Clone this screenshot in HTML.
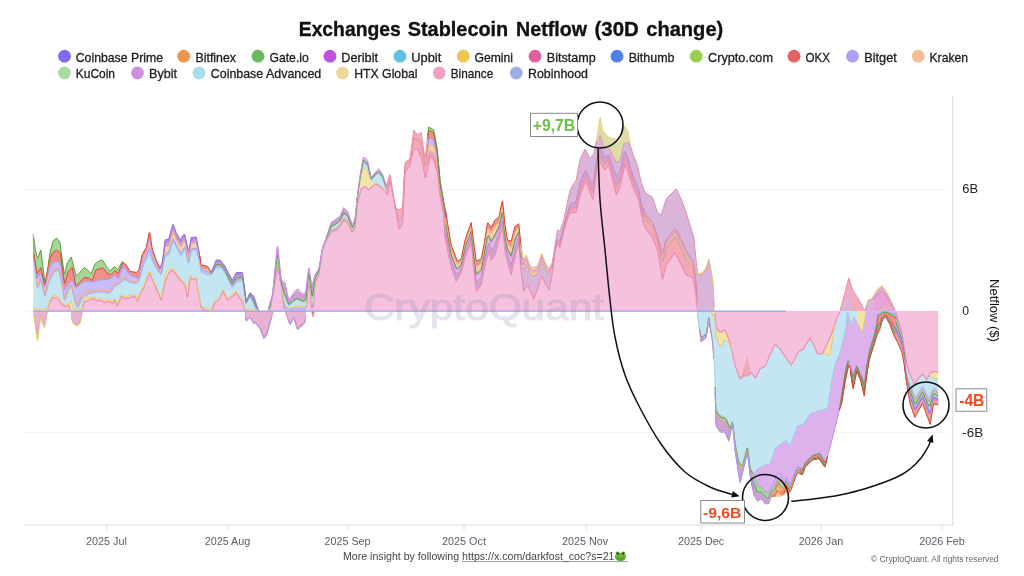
<!DOCTYPE html><html><head><meta charset="utf-8"><title>Exchanges Stablecoin Netflow (30D change)</title>
<style>html,body{margin:0;padding:0;background:#fff}body{width:1024px;height:576px;overflow:hidden}svg{display:block}text{font-family:"Liberation Sans", sans-serif}</style></head><body>
<svg width="1024" height="576" viewBox="0 0 1024 576">
<rect width="1024" height="576" fill="#fff"/>
<text y="36.0" font-size="20.2" fill="#111" font-weight="bold" stroke="#111" stroke-width="0.35"><tspan x="298.75" textLength="102" lengthAdjust="spacingAndGlyphs">Exchanges</tspan> <tspan x="407.75" textLength="100.5" lengthAdjust="spacingAndGlyphs">Stablecoin</tspan> <tspan x="516" textLength="71" lengthAdjust="spacingAndGlyphs">Netflow</tspan> <tspan x="594.5" textLength="44.25" lengthAdjust="spacingAndGlyphs">(30D</tspan> <tspan x="646.25" textLength="77" lengthAdjust="spacingAndGlyphs">change)</tspan></text>
<circle cx="64.50" cy="56.20" r="6.4" fill="#7b6cf0"/>
<text x="75.75" y="61.50" font-size="12.6" fill="#1c1c1c" font-weight="normal" text-anchor="start" textLength="87.25" lengthAdjust="spacingAndGlyphs" stroke="#1c1c1c" stroke-width="0.3">Coinbase Prime</text>
<circle cx="183.75" cy="56.20" r="6.4" fill="#f0954f"/>
<text x="195.50" y="61.50" font-size="12.6" fill="#1c1c1c" font-weight="normal" text-anchor="start" textLength="40.50" lengthAdjust="spacingAndGlyphs" stroke="#1c1c1c" stroke-width="0.3">Bitfinex</text>
<circle cx="258.00" cy="56.20" r="6.4" fill="#68bb5c"/>
<text x="269.50" y="61.50" font-size="12.6" fill="#1c1c1c" font-weight="normal" text-anchor="start" textLength="39.25" lengthAdjust="spacingAndGlyphs" stroke="#1c1c1c" stroke-width="0.3">Gate.io</text>
<circle cx="330.00" cy="56.20" r="6.4" fill="#c050e0"/>
<text x="341.25" y="61.50" font-size="12.6" fill="#1c1c1c" font-weight="normal" text-anchor="start" textLength="36.75" lengthAdjust="spacingAndGlyphs" stroke="#1c1c1c" stroke-width="0.3">Deribit</text>
<circle cx="400.00" cy="56.20" r="6.4" fill="#62c0e4"/>
<text x="411.25" y="61.50" font-size="12.6" fill="#1c1c1c" font-weight="normal" text-anchor="start" textLength="30.00" lengthAdjust="spacingAndGlyphs" stroke="#1c1c1c" stroke-width="0.3">Upbit</text>
<circle cx="463.25" cy="56.20" r="6.4" fill="#f0c550"/>
<text x="474.50" y="61.50" font-size="12.6" fill="#1c1c1c" font-weight="normal" text-anchor="start" textLength="38.50" lengthAdjust="spacingAndGlyphs" stroke="#1c1c1c" stroke-width="0.3">Gemini</text>
<circle cx="535.00" cy="56.20" r="6.4" fill="#e0609a"/>
<text x="546.75" y="61.50" font-size="12.6" fill="#1c1c1c" font-weight="normal" text-anchor="start" textLength="49.00" lengthAdjust="spacingAndGlyphs" stroke="#1c1c1c" stroke-width="0.3">Bitstamp</text>
<circle cx="617.00" cy="56.20" r="6.4" fill="#4f7fe8"/>
<text x="628.75" y="61.50" font-size="12.6" fill="#1c1c1c" font-weight="normal" text-anchor="start" textLength="45.75" lengthAdjust="spacingAndGlyphs" stroke="#1c1c1c" stroke-width="0.3">Bithumb</text>
<circle cx="696.25" cy="56.20" r="6.4" fill="#9ad050"/>
<text x="708.00" y="61.50" font-size="12.6" fill="#1c1c1c" font-weight="normal" text-anchor="start" textLength="65.00" lengthAdjust="spacingAndGlyphs" stroke="#1c1c1c" stroke-width="0.3">Crypto.com</text>
<circle cx="794.00" cy="56.20" r="6.4" fill="#e56060"/>
<text x="805.50" y="61.50" font-size="12.6" fill="#1c1c1c" font-weight="normal" text-anchor="start" textLength="24.50" lengthAdjust="spacingAndGlyphs" stroke="#1c1c1c" stroke-width="0.3">OKX</text>
<circle cx="852.50" cy="56.20" r="6.4" fill="#ada0f5"/>
<text x="864.25" y="61.50" font-size="12.6" fill="#1c1c1c" font-weight="normal" text-anchor="start" textLength="32.50" lengthAdjust="spacingAndGlyphs" stroke="#1c1c1c" stroke-width="0.3">Bitget</text>
<circle cx="918.25" cy="56.20" r="6.4" fill="#f5bd95"/>
<text x="929.50" y="61.50" font-size="12.6" fill="#1c1c1c" font-weight="normal" text-anchor="start" textLength="38.50" lengthAdjust="spacingAndGlyphs" stroke="#1c1c1c" stroke-width="0.3">Kraken</text>
<circle cx="64.50" cy="73.00" r="6.4" fill="#a8dca0"/>
<text x="75.75" y="78.40" font-size="12.6" fill="#1c1c1c" font-weight="normal" text-anchor="start" textLength="39.25" lengthAdjust="spacingAndGlyphs" stroke="#1c1c1c" stroke-width="0.3">KuCoin</text>
<circle cx="137.50" cy="73.00" r="6.4" fill="#cc90e0"/>
<text x="149.00" y="78.40" font-size="12.6" fill="#1c1c1c" font-weight="normal" text-anchor="start" textLength="28.00" lengthAdjust="spacingAndGlyphs" stroke="#1c1c1c" stroke-width="0.3">Bybit</text>
<circle cx="199.00" cy="73.00" r="6.4" fill="#a8dcee"/>
<text x="210.75" y="78.40" font-size="12.6" fill="#1c1c1c" font-weight="normal" text-anchor="start" textLength="110.50" lengthAdjust="spacingAndGlyphs" stroke="#1c1c1c" stroke-width="0.3">Coinbase Advanced</text>
<circle cx="342.50" cy="73.00" r="6.4" fill="#ecd898"/>
<text x="354.25" y="78.40" font-size="12.6" fill="#1c1c1c" font-weight="normal" text-anchor="start" textLength="63.25" lengthAdjust="spacingAndGlyphs" stroke="#1c1c1c" stroke-width="0.3">HTX Global</text>
<circle cx="439.25" cy="73.00" r="6.4" fill="#f0a0c4"/>
<text x="450.75" y="78.40" font-size="12.6" fill="#1c1c1c" font-weight="normal" text-anchor="start" textLength="42.50" lengthAdjust="spacingAndGlyphs" stroke="#1c1c1c" stroke-width="0.3">Binance</text>
<circle cx="516.25" cy="73.00" r="6.4" fill="#9cb0e8"/>
<text x="528.00" y="78.40" font-size="12.6" fill="#1c1c1c" font-weight="normal" text-anchor="start" textLength="60.00" lengthAdjust="spacingAndGlyphs" stroke="#1c1c1c" stroke-width="0.3">Robinhood</text>
<line x1="24" x2="947" y1="190.0" y2="190.0" stroke="#f4f4f4" stroke-width="1"/>
<line x1="24" x2="947" y1="432.5" y2="432.5" stroke="#f4f4f4" stroke-width="1"/>
<line x1="24" x2="947" y1="311" y2="311" stroke="#f4f4f4" stroke-width="1"/>
<g id="chart">
<path d="M33.2 311L47.2 311L47.8 309.8L48.8 305L52.2 298L52.8 297.5L57.2 298L57.8 298.4L61.2 303.8L65.2 306.8L65.8 306.8L68.8 305L70.8 311L81.8 311L82.2 309.8L83.8 302.5L88.8 300L93.8 298.8L97.2 301.1L97.8 301.1L99.8 300.1L100.2 300.1L104.8 302.4L105.2 302.4L108.8 301.2L112.2 303.6L112.8 303.4L114.8 300.4L115.2 300.6L117.2 305.6L117.8 305.6L121.2 296.2L124.8 298.6L125.2 298.7L134.8 296.3L135.2 296.8L137.2 300.8L137.8 300.6L140.2 294.5L143.8 287.5L149.2 273.6L149.8 273.6L161.2 300L165.2 281.8L168.8 272.5L172.2 270.2L172.8 270.3L179.8 279.7L184.8 284.8L185.2 286.4L187.2 297.4L187.8 296.6L189.8 279.6L190.2 277.7L193.8 280L196.2 278.8L198.8 295L201.2 307.5L204.8 309.8L211.2 311L214.8 303.1L215.2 302.3L218.8 300L223.2 291.2L227.2 299.5L227.8 299.8L231.2 297.5L236.2 292.5L239.8 298.3L242.8 302.2L243.2 303.6L244.8 309.9L245.2 311L269.8 311L270.2 309.6L277.2 268.9L277.8 268.7L281.2 285L284.2 309L284.8 311L306.2 311L308.8 277.5L311.8 308.4L312.2 311L312.8 311L313.2 307.4L314.8 286.1L315.2 282L318.8 275L322.2 251.7L322.8 249.4L326.2 241.2L331.2 232L336.2 230.5L339.8 226.5L343.8 220.2L347.2 222.1L347.8 222.8L351.8 231.7L352.2 231.9L354.8 228.4L355.2 225.4L357.2 205.1L357.8 201.6L361.2 188.8L364.8 186.4L365.2 186.5L368.8 190L373.8 185L377.2 184.5L377.8 184.7L383.8 190L387.2 194.7L387.8 193.5L389.8 181.5L390.2 181.2L396.2 212.5L398.8 228.8L402.2 225.2L402.8 219.8L404.8 177.8L405.2 172.1L409.8 165.4L410.2 164L413.8 150L417.2 148.8L417.8 149.3L421.2 157.5L425.2 177.5L425.8 177.5L429.8 157.5L430.2 156.5L433.8 160L437.2 171.7L437.8 174.8L440.2 196.3L443.8 215L444.8 233L445.2 238.7L451.2 267.5L456.2 281.2L461.2 272.5L465.2 256.9L471.2 242.5L473.8 270L476.2 291.2L481.2 285L484.8 266.3L488.8 251.2L491.2 260L494.8 255.3L495.2 254L498.8 240L502.2 228.3L502.8 229.8L505.2 252.7L505.8 255.9L511.2 275L515.2 256.5L518.8 242.5L521.2 272.5L523.8 291.2L527.2 285.4L527.8 285.6L533.8 298.8L537.8 288L541.8 276.2L545.2 282.9L549.2 290L551.8 276.4L554.8 252.1L555.2 249.4L557.2 244.4L557.8 244.1L559.8 247.1L560.2 246.3L563.8 230L566.2 222.5L569.8 213.2L570.2 212.5L576.2 212.5L580.2 194.4L585.8 181.2L592.8 199.4L593.2 198.1L597.2 166.9L597.8 164.7L599.8 162.3L600.2 162.4L604.8 169.6L605.2 169.7L608.8 165L616.2 195L619.8 188L620.2 186.3L624.8 164.9L625.2 164.5L633.8 190L638.8 200L642.2 218.7L642.8 220.8L644.8 226.8L645.2 227.8L652.2 237.2L657.2 249.4L657.8 251.5L662.2 278.5L662.8 279L666.2 265L670.2 259.6L674.8 252.9L675.2 253L686.2 275L692.2 277.4L692.8 278.5L695.2 289L695.8 293.5L696.8 307.5L697.2 311L938.2 311L938.2 311L33.2 311Z" fill="#f6c1dd"/>
<path d="M33.2 309L47.2 309L47.8 307.8L48.8 303L52.2 296L52.8 295.5L57.2 296L57.8 296.4L61.2 301.8L65.2 304.8L65.8 304.8L68.8 302.8L70.8 302.4L71.2 301.2L73.8 309L81.8 309L82.2 307.8L83.8 299.8L85.8 296.8L86.2 296.5L89.2 297.9L93.8 296.8L97.2 299.1L97.8 299.1L99.8 298.1L100.2 298.1L104.8 300.4L105.2 300.4L108.8 299.2L112.2 301.6L112.8 301.4L114.8 298.4L115.2 298.6L117.2 303.6L117.8 303.6L121.2 294.2L124.8 296.6L125.2 296.7L134.8 294.3L135.2 294.8L137.2 298.8L137.8 298.6L140.2 292.5L143.8 285.5L149.2 271.6L149.8 271.6L161.2 298L162.8 290.5L164.8 277.2L165.8 272L166.2 270.7L168.8 269L169.2 269.7L169.8 269.8L172.2 268.2L172.8 268.3L179.8 277.7L184.8 282.8L187.2 287.3L187.8 286.5L189.8 276.7L190.2 275.7L193.8 278L196.2 276.8L198.8 293L201.2 305.5L204.8 307.8L211.2 309L214.8 301.1L215.2 300.3L218.8 298L223.2 289.2L227.2 297.5L227.8 297.8L231.2 295.5L236.2 290.5L239.8 296.3L242.8 300.2L243.2 301.6L244.8 307.9L245.2 309L246.2 309.8L249.2 309L251.8 309L253.8 309.2L258.2 310.8L258.2 311L245.2 311L244.8 309.9L243.2 303.6L242.8 302.2L239.8 298.3L236.2 292.5L231.2 297.5L227.8 299.8L227.2 299.5L223.2 291.2L218.8 300L215.2 302.3L214.8 303.1L211.2 311L204.8 309.8L201.2 307.5L198.8 295L196.2 278.8L193.8 280L190.2 277.7L189.8 279.6L187.8 296.6L187.2 297.4L185.2 286.4L184.8 284.8L179.8 279.7L172.8 270.3L172.2 270.2L168.8 272.5L165.2 281.8L161.2 300L149.8 273.6L149.2 273.6L143.8 287.5L140.2 294.5L137.8 300.6L137.2 300.8L135.2 296.8L134.8 296.3L125.2 298.7L124.8 298.6L121.2 296.2L117.8 305.6L117.2 305.6L115.2 300.6L114.8 300.4L112.8 303.4L112.2 303.6L108.8 301.2L105.2 302.4L104.8 302.4L100.2 300.1L99.8 300.1L97.8 301.1L97.2 301.1L93.8 298.8L88.8 300L83.8 302.5L82.2 309.8L81.8 311L70.8 311L68.8 305L65.8 306.8L65.2 306.8L61.2 303.8L57.8 298.4L57.2 298L52.8 297.5L52.2 298L48.8 305L47.8 309.8L47.2 311L33.2 311Z" fill="#f3e4a6"/>
<path d="M33.2 256.2L37.2 286.8L37.8 288.1L40.8 280L44.8 296.5L45.2 296.5L48.8 282.5L53.8 272.5L58.8 270L62.2 286.3L64.2 299.5L64.8 300.5L67.8 292L71.2 285L75.2 303.2L77.2 308.8L77.8 308.9L81.2 300L85.2 296.1L89.8 293.9L99.8 292.5L109.8 293.7L110.2 293.4L114.8 286.6L115.2 286.1L119.8 283.9L124.8 280.2L125.2 280.1L130.2 282.6L136.2 283.8L138.8 281.2L143.8 265L149.2 254.2L149.8 254.4L153.8 265L158.8 272.5L161.2 275L164.8 257.5L165.2 256.2L168.8 255L172.8 242.1L173.2 241.7L177.2 249.5L181.2 256.2L184.8 249.2L185.2 249.9L188.2 263.4L188.8 263.3L191.2 251.2L196.2 250L199.2 260L201.2 272.5L207.2 274.9L211.2 275L216.2 268L221.2 268L225.2 273.6L228.8 281.2L232.2 287.6L232.8 287.6L236.2 282.5L242.2 280.6L242.8 282.1L246.2 303.8L249.8 296.8L250.2 296.8L255.8 309.4L256.2 310.1L258.2 310.8L258.2 310.8L253.8 309.2L251.8 309L249.2 309L246.2 309.8L245.2 309L244.8 307.9L243.2 301.6L242.8 300.2L239.8 296.3L236.2 290.5L231.2 295.5L227.8 297.8L227.2 297.5L223.2 289.2L218.8 298L215.2 300.3L214.8 301.1L211.2 309L204.8 307.8L201.2 305.5L198.8 293L196.2 276.8L193.8 278L190.2 275.7L189.8 276.7L187.8 286.5L187.2 287.3L184.8 282.8L179.8 277.7L172.8 268.3L172.2 268.2L169.8 269.8L169.2 269.7L168.8 269L166.2 270.7L165.8 272L164.8 277.2L162.8 290.5L161.2 298L149.8 271.6L149.2 271.6L143.8 285.5L140.2 292.5L137.8 298.6L137.2 298.8L135.2 294.8L134.8 294.3L125.2 296.7L124.8 296.6L121.2 294.2L117.8 303.6L117.2 303.6L115.2 298.6L114.8 298.4L112.8 301.4L112.2 301.6L108.8 299.2L105.2 300.4L104.8 300.4L100.2 298.1L99.8 298.1L97.8 299.1L97.2 299.1L93.8 296.8L89.2 297.9L86.2 296.5L85.8 296.8L83.8 299.8L82.2 307.8L81.8 309L73.8 309L71.2 301.2L70.8 302.4L68.8 302.8L65.8 304.8L65.2 304.8L61.2 301.8L57.8 296.4L57.2 296L52.8 295.5L52.2 296L48.8 303L47.8 307.8L47.2 309L33.2 309Z" fill="#c4e6f2"/>
<path d="M33.2 253.6L33.8 259.9L37.2 285.8L37.8 286.8L40.8 279.1L44.8 295.3L45.2 295.1L48.8 281.1L52.8 273.1L53.8 271.3L56.8 269.8L58.8 269.1L62.2 285L64.2 298.1L64.8 299.2L67.8 291.2L71.2 284.5L74.8 299.5L75.8 302.6L77.2 306.2L77.8 306.2L81.2 298L85.2 294.4L90.2 292.3L99.8 291L109.8 291.9L110.2 291.6L114.8 285.2L115.2 284.9L118.2 283.9L120.2 282.3L122.8 279.8L124.8 278.8L125.2 278.8L130.2 281.6L136.2 283L137.8 281.8L138.8 280.7L139.8 277.6L140.2 274.8L140.2 276.4L138.8 281.2L136.2 283.8L130.2 282.6L125.2 280.1L124.8 280.2L120.2 283.6L115.2 286.1L114.8 286.6L110.2 293.4L109.8 293.7L99.8 292.5L90.2 293.7L85.2 296.1L81.2 300L77.8 308.9L77.2 308.8L74.8 301.3L71.2 285L67.8 292L64.8 300.5L64.2 299.5L62.2 286.3L58.8 270L53.8 272.5L48.8 282.5L45.2 296.5L44.8 296.5L40.8 280L37.8 288.1L37.2 286.8L33.2 256.2Z" fill="#e2b8ea"/>
<path d="M33.2 250.8L33.8 259.7L37.2 284.8L37.8 285.6L40.8 278.2L44.8 294.2L45.2 293.7L48.8 279.7L52.8 271.6L53.8 270L56.8 268.7L58.8 268.2L60.8 276L62.2 283.7L64.2 296.7L64.8 297.9L67.8 290.3L71.2 284L75.2 299.3L77.2 303.6L77.8 303.5L81.2 296.1L83.8 293.7L85.2 292.6L90.2 290.8L99.8 289.5L106.2 290L109.8 290.1L110.2 289.8L111.2 288.6L114.8 283.9L115.2 283.6L118.2 283.2L119.8 281.7L122.8 278L124.8 277.3L125.2 277.4L126.2 278L130.2 280.7L136.2 282.3L137.8 281.4L138.8 280.1L139.8 277.1L140.2 273.3L140.2 274.8L139.8 277.6L138.8 280.7L137.8 281.8L136.2 283L130.2 281.6L125.2 278.8L124.8 278.8L122.8 279.8L120.2 282.3L118.2 283.9L115.2 284.9L114.8 285.2L110.2 291.6L109.8 291.9L99.8 291L90.2 292.3L85.2 294.4L81.2 298L77.8 306.2L77.2 306.2L75.8 302.6L74.8 299.5L71.2 284.5L67.8 291.2L64.8 299.2L64.2 298.1L62.2 285L58.8 269.1L56.8 269.8L53.8 271.3L52.8 273.1L48.8 281.1L45.2 295.1L44.8 295.3L40.8 279.1L37.8 286.8L37.2 285.8L33.8 259.9L33.2 253.6Z" fill="#f7cfae"/>
<path d="M33.2 233.8L33.8 258.5L36.8 276.5L37.2 278.5L40.8 272.7L41.2 274L44.2 286L44.8 287L49.2 269.5L52.8 262.5L56.8 261.2L60.2 263.6L60.8 265.4L62.8 278.8L64.2 287.8L64.8 289.8L67.8 285L71.8 280.4L72.2 280.3L75.8 287.9L76.2 287.8L83.8 281.5L84.2 281.3L92.2 281.8L99.2 280L106.8 279.7L111.2 278.2L114.2 275.4L114.8 275.1L118.2 278.6L118.8 277.7L122.8 266.2L126.8 270.3L130.2 275L133.8 276.2L137.8 278.8L139.8 274.3L140.2 263.5L140.2 273.3L139.8 277.1L138.8 280.1L137.8 281.4L136.2 282.3L130.2 280.7L126.2 278L125.2 277.4L124.8 277.3L122.8 278L119.8 281.7L118.2 283.2L115.2 283.6L114.8 283.9L111.2 288.6L110.2 289.8L109.8 290.1L106.2 290L99.8 289.5L90.2 290.8L85.2 292.6L83.8 293.7L81.2 296.1L77.8 303.5L77.2 303.6L75.2 299.3L71.2 284L67.8 290.3L64.8 297.9L64.2 296.7L62.2 283.7L60.8 276L58.8 268.2L56.8 268.7L53.8 270L52.8 271.6L48.8 279.7L45.2 293.7L44.8 294.2L40.8 278.2L37.8 285.6L37.2 284.8L33.8 259.7L33.2 250.8Z" fill="#c9bdf7"/>
<path d="M33.2 233.8L33.8 253.5L36.8 271.5L37.2 273.5L40.8 267.7L41.2 269.2L44.2 283.2L44.8 284.3L45.2 282.4L48.8 262.6L49.2 260.7L52.8 252.5L56.8 250L60.2 253.5L60.8 255.6L64.2 281L64.8 283.3L67.8 272.5L71.8 267.4L72.2 267.5L75.8 285.6L76.2 285.9L79.8 282.4L83.8 277.8L84.2 277.5L88.8 278.1L91.8 280.3L92.2 280.3L95.8 270.4L96.2 269.9L102.8 267.8L103.2 268.1L106.8 272.6L110.8 274.9L114.8 270.7L118.2 273L118.8 272.2L122.8 262.5L123.2 262L126.2 265L129.8 270.8L130.2 271.3L136.2 272.5L138.8 270L140.2 263.5L140.2 263.5L139.8 274.3L137.8 278.8L134.2 276.4L130.2 275L126.8 270.3L122.8 266.2L118.8 277.7L118.2 278.6L114.8 275.1L114.2 275.4L111.2 278.2L106.8 279.7L99.2 280L92.2 281.8L84.2 281.3L83.8 281.5L76.2 287.8L75.8 287.9L72.2 280.3L71.8 280.4L67.8 285L64.8 289.8L64.2 287.8L62.8 278.8L60.8 265.4L60.2 263.6L56.8 261.2L52.8 262.5L49.2 269.5L44.8 287L44.2 286L41.2 274L40.8 272.7L37.2 278.5L36.8 276.5L33.8 258.5L33.2 233.8Z" fill="#f0908c"/>
<path d="M33.2 233.8L35.2 248.6L37.2 257.6L37.8 258.1L40.8 250L44.8 281.7L45.2 282.4L47.2 271.4L50.2 251.6L52.8 242.2L53.2 241L56.8 238L59.8 242.2L60.2 244.5L62.8 264.1L64.2 273.4L64.8 274L67.2 263.5L67.8 262.1L71.2 257L76.2 276.2L80.2 272.2L84.2 267.5L87.8 270.2L91.2 273.8L94.8 264.4L95.2 263.6L98.8 261.2L102.2 260.1L102.8 260.4L106.2 266.2L109.8 270.9L110.2 271L114.2 266.5L114.8 266.6L117.2 269.7L117.8 269.6L122.2 261.7L122.8 261.5L126.2 265L129.8 270.8L130.2 271.3L136.2 272.5L138.8 270L140.2 263.5L140.2 263.5L138.8 270L136.2 272.5L130.2 271.3L129.8 270.8L126.2 265L123.2 262L122.8 262.5L118.8 272.2L118.2 273L114.8 270.7L110.8 274.9L106.8 272.6L103.2 268.1L102.8 267.8L96.2 269.9L95.8 270.4L92.2 280.3L91.8 280.3L88.8 278.1L84.2 277.5L83.8 277.8L79.8 282.4L76.2 285.9L75.8 285.6L72.2 267.5L71.8 267.4L67.8 272.5L64.8 283.3L64.2 281L60.8 255.6L60.2 253.5L56.8 250L52.8 252.5L49.2 260.7L48.8 262.6L45.2 282.4L44.8 284.3L44.2 283.2L41.2 269.2L40.8 267.7L37.2 273.5L36.8 271.5L33.8 253.5L33.2 233.8Z" fill="#a8d699"/>
<path d="M139.8 274.3L142.8 263.8L143.8 261L146.2 256.3L149.2 247.7L149.8 247.9L152.2 257.3L153.8 261.5L158.8 270.5L159.8 271.9L160.2 272.2L160.2 274L158.8 272.5L153.8 265L149.8 254.4L149.2 254.2L143.8 265L139.8 278Z" fill="#c9bdf7"/>
<path d="M139.8 271.8L142.8 260.8L143.8 258.3L146.2 253.8L149.2 243.4L149.8 243.6L152.2 254.7L153.8 259.2L158.8 269.2L159.8 270.8L160.2 271L160.2 272.2L159.8 271.9L158.8 270.5L153.8 261.5L152.2 257.3L149.8 247.9L149.2 247.7L146.2 256.3L143.8 261L142.8 263.8L139.8 274.3Z" fill="#f7cfae"/>
<path d="M139.8 269.4L142.8 257.8L143.8 255.7L146.2 251.3L149.2 239L149.8 239.3L152.8 254.2L156.2 262.6L159.8 269.8L160.2 269.8L160.2 271L159.8 270.8L158.8 269.2L153.8 259.2L152.2 254.7L149.8 243.6L149.2 243.4L146.2 253.8L143.8 258.3L142.8 260.8L139.8 271.8Z" fill="#e2b8ea"/>
<path d="M139.8 265.7L142.2 254.8L142.8 253.3L146.2 247.5L149.2 232.5L149.8 232.8L152.2 248.4L152.8 250.7L156.2 260L159.8 268.2L160.2 268L160.2 269.8L159.8 269.8L156.2 262.6L152.8 254.2L149.8 239.3L149.2 239L146.2 251.3L143.8 255.7L142.8 257.8L139.8 269.4Z" fill="#f0908c"/>
<path d="M159.8 272.7L161.2 273.5L164.8 255.2L165.2 253.7L168.8 252.6L172.8 239.4L173.2 239.1L177.8 248.2L179.8 251.6L181.2 253.6L184.8 247.1L185.2 247.9L188.2 261.4L188.8 261.3L191.2 249.2L196.2 248.1L199.2 258.9L200.2 265.2L200.2 266.2L199.2 260L196.2 250L191.2 251.2L188.8 263.3L188.2 263.4L185.2 249.9L184.8 249.2L181.2 256.2L177.2 249.5L173.2 241.7L172.8 242.1L168.8 255L165.2 256.2L164.8 257.5L161.2 275L159.8 273.5Z" fill="#c9bdf7"/>
<path d="M159.8 270.6L160.2 270.7L161.2 269.5L162.2 265.6L164.8 249L165.2 247.2L168.8 246.1L172.8 232.5L173.2 232.2L176.2 239.3L179.8 245.9L180.2 246.4L181.2 246.4L184.2 241.4L184.8 241.3L185.2 242.8L188.2 256.1L188.8 256L191.2 243.7L196.2 242.8L199.2 256.1L200.2 262.3L200.2 265.2L199.2 258.9L196.2 248.1L191.2 249.2L188.8 261.3L188.2 261.4L185.2 247.9L184.8 247.1L181.2 253.6L179.8 251.6L177.8 248.2L173.2 239.1L172.8 239.4L168.8 252.6L165.2 253.7L164.8 255.2L161.2 273.5L159.8 272.7Z" fill="#f7cfae"/>
<path d="M159.8 269.2L160.2 269.2L161.2 267L162.2 263.6L164.8 245.2L165.2 243.2L168.8 242L172.8 228.1L173.2 227.9L176.2 235.5L179.8 242.3L180.2 242.6L181.2 241.9L184.2 237.3L184.8 237.7L188.2 252.8L188.8 252.7L191.2 240.2L196.2 239.6L198.8 251.7L200.2 260.4L200.2 262.3L199.2 256.1L196.2 242.8L191.2 243.7L188.8 256L188.2 256.1L185.2 242.8L184.8 241.3L184.2 241.4L181.2 246.4L180.2 246.4L179.8 245.9L176.2 239.3L173.2 232.2L172.8 232.5L168.8 246.1L165.2 247.2L164.8 249L162.2 265.6L161.2 269.5L160.2 270.7L159.8 270.6Z" fill="#cfa2d2"/>
<path d="M159.8 268.2L160.2 268L162.2 262L162.8 259.1L164.8 242.1L165.2 239.9L168.8 238.8L172.8 224.6L173.2 224.4L176.2 232.5L179.8 239.5L180.2 239.7L184.2 234.1L184.8 234.8L188.2 250.2L188.8 250L191.2 237.5L196.2 237L198.8 250L200.2 259L200.2 260.4L198.8 251.7L196.2 239.6L191.2 240.2L188.8 252.7L188.2 252.8L184.8 237.7L184.2 237.3L181.2 241.9L180.2 242.6L179.8 242.3L176.2 235.5L173.2 227.9L172.8 228.1L168.8 242L165.2 243.2L164.8 245.2L162.2 263.6L161.2 267L160.2 269.2L159.8 269.2Z" fill="#a88ce2"/>
<path d="M199.8 260.3L201.2 269.5L207.2 271.4L211.2 274L212.2 272.2L212.2 273.6L211.2 275L207.8 275L201.2 272.5L199.8 263.1Z" fill="#c9bdf7"/>
<path d="M199.8 258.9L201.2 268L207.2 269.7L211.2 273.5L212.2 271.4L212.2 272.2L211.2 274L207.2 271.4L201.2 269.5L199.8 260.3Z" fill="#f7cfae"/>
<path d="M199.8 256L201.2 265L207.2 266.2L207.8 266.7L211.2 272.5L212.2 270L212.2 271.4L211.2 273.5L207.2 269.7L201.2 268L199.8 258.9Z" fill="#f0908c"/>
<path d="M211.8 273.5L216.2 266L220.2 266.1L221.2 266.4L224.8 271L228.8 279.4L232.2 285.6L232.8 285.6L236.2 280L242.2 278.6L242.8 280.1L246.2 303.1L249.8 295.8L250.2 295.8L253.8 302.7L255.8 307.6L256.2 308.5L258.2 310.5L258.2 310.8L256.2 310.1L255.8 309.4L250.2 296.8L249.8 296.8L246.2 303.8L242.8 282.1L242.2 280.6L236.2 282.5L232.8 287.6L232.2 287.6L228.8 281.2L225.2 273.6L221.2 268L216.2 268L211.8 274.3Z" fill="#c9bdf7"/>
<path d="M211.8 272.9L216.2 264.4L219.8 264.4L221.2 265.1L224.8 269.6L228.8 277.9L232.2 284L232.8 284L236.2 278L242.2 276.9L242.8 278.6L246.2 302.6L249.8 295.1L250.2 295L253.8 301L256.2 307.2L258.2 310.2L258.2 310.5L256.2 308.5L255.8 307.6L253.8 302.7L250.2 295.8L249.8 295.8L246.2 303.1L242.8 280.1L242.2 278.6L236.2 280L232.8 285.6L232.2 285.6L228.8 279.4L224.8 271L221.2 266.4L220.2 266.1L216.2 266L211.8 273.5Z" fill="#a8d699"/>
<path d="M211.8 272.2L216.2 262.4L219.8 262.4L221.2 263.5L224.8 268L228.8 276L232.2 282L232.8 281.9L236.2 275.5L242.2 274.9L242.8 276.7L246.2 302L249.8 294.2L250.2 294L253.8 298.8L256.2 305.6L258.2 309.9L258.2 310.2L256.2 307.2L253.8 301L250.2 295L249.8 295.1L246.2 302.6L242.8 278.6L242.2 276.9L236.2 278L232.8 284L232.2 284L228.8 277.9L224.8 269.6L221.2 265.1L219.8 264.4L216.2 264.4L211.8 272.9Z" fill="#cfa2d2"/>
<path d="M211.8 271.2L216.2 260L219.8 260L220.2 260.3L224.8 265.9L228.8 273.8L232.2 279.6L232.8 279.5L236.2 272.5L242.2 272.5L242.8 274.4L246.2 301.2L249.8 293.1L250.2 292.8L253.8 296.2L258.2 309.5L258.2 309.9L256.2 305.6L253.8 298.8L250.2 294L249.8 294.2L246.2 302L242.8 276.7L242.2 274.9L236.2 275.5L232.8 281.9L232.2 282L228.8 276L224.8 268L221.2 263.5L219.8 262.4L216.2 262.4L211.8 272.2Z" fill="#a88ce2"/>
<path d="M257.8 310.6L258.8 311L267.2 311L269.8 309.9L270.2 308.4L272.2 297.6L277.2 265.6L277.8 265.3L281.2 284.2L284.2 304.9L284.8 306.7L288.8 309.4L293.8 308.2L297.2 307.7L302.2 308.4L305.2 308.2L306.2 307.4L308.8 276L311.8 304.9L312.2 307.1L312.8 306.9L313.2 303.6L314.8 284.5L315.2 280.9L318.8 274.1L322.2 251.3L322.8 249L326.2 240.7L331.2 230.6L336.2 228.7L340.2 224.3L343.8 218.3L347.2 220.4L347.8 221.2L351.8 230.4L352.2 230.8L352.8 230.2L354.8 227L355.2 224.1L357.2 203.9L357.2 205.1L355.2 225.4L354.8 228.4L352.2 231.9L351.8 231.7L347.8 222.8L347.2 222.1L343.8 220.2L339.8 226.5L336.2 230.5L331.2 232L326.2 241.2L322.8 249.4L322.2 251.7L318.8 275L315.2 282L314.8 286.1L313.2 307.4L312.8 311L312.2 311L311.8 308.4L308.8 277.5L306.2 311L284.8 311L284.2 309L281.2 285L277.8 268.7L277.2 268.9L270.2 309.6L269.8 311L257.8 311Z" fill="#c9bdf7"/>
<path d="M257.8 310.3L258.8 311L267.2 311L267.8 310.8L269.8 309.2L270.2 307.7L272.2 297.4L277.2 263.3L277.8 263L284.2 302.2L284.8 303.8L285.2 304.2L288.8 308.2L293.8 306.4L297.2 305.5L302.8 306.7L305.2 306.4L305.8 305.9L306.2 304.9L308.8 275L311.8 302.5L312.2 304.6L312.8 304.1L313.2 301L314.8 283.5L315.2 280.1L318.8 273.4L322.2 251L322.8 248.8L326.2 240.3L331.2 229.6L336.2 227.6L340.2 223.3L343.8 217.1L347.2 219.3L347.8 220.1L351.8 229.5L352.2 230L352.8 229.5L354.8 226.1L355.2 223.2L357.2 203.1L357.2 203.9L355.2 224.1L354.8 227L352.8 230.2L352.2 230.8L351.8 230.4L347.8 221.2L347.2 220.4L343.8 218.3L340.2 224.3L336.2 228.7L331.2 230.6L326.2 240.7L322.8 249L322.2 251.3L318.8 274.1L315.2 280.9L314.8 284.5L313.2 303.6L312.8 306.9L312.2 307.1L311.8 304.9L308.8 276L306.2 307.4L305.2 308.2L302.2 308.4L297.2 307.7L293.8 308.2L288.8 309.4L284.8 306.7L284.2 304.9L281.2 284.2L277.8 265.3L277.2 265.6L272.2 297.6L270.2 308.4L269.8 309.9L267.2 311L258.8 311L257.8 310.6Z" fill="#f3e4a6"/>
<path d="M257.8 309.5L258.8 311L267.2 311L267.8 310.6L269.8 307.4L270.2 305.9L272.2 296.9L277.2 257.6L277.8 257.4L281.2 282.5L284.2 295.5L285.2 297.3L288.8 305.5L293.8 301.8L297.2 300L297.8 300L302.2 302.2L302.8 302.3L305.2 301.8L305.8 300.8L306.2 298.9L308.8 272.5L311.8 296.6L312.2 298.2L312.8 297.2L313.2 294.5L314.8 281L315.2 278.3L318.8 271.9L322.2 250.3L322.8 248.1L331.2 227.2L336.2 224.6L339.8 221.5L343.8 213.9L347.2 216.6L347.8 217.4L351.8 227.3L352.2 228.1L352.8 227.8L354.8 223.9L355.2 220.9L357.2 201.2L357.2 203.1L355.2 223.2L354.8 226.1L352.8 229.5L352.2 230L351.8 229.5L347.8 220.1L347.2 219.3L343.8 217.1L340.2 223.3L336.2 227.6L331.2 229.6L326.2 240.3L322.8 248.8L322.2 251L318.8 273.4L315.2 280.1L314.8 283.5L313.2 301L312.8 304.1L312.2 304.6L311.8 302.5L308.8 275L306.2 304.9L305.8 305.9L305.2 306.4L302.8 306.7L297.2 305.5L293.8 306.4L288.8 308.2L285.2 304.2L284.8 303.8L284.2 302.2L277.8 263L277.2 263.3L272.2 297.4L270.2 307.7L269.8 309.2L267.8 310.8L267.2 311L258.8 311L257.8 310.3Z" fill="#c4e6f2"/>
<path d="M257.8 309.3L258.8 311L267.2 311L267.8 310.5L269.8 306.8L272.2 296.7L272.8 293.5L277.2 255.8L277.8 255.6L281.2 282.1L284.2 293.3L285.2 295.1L288.8 304.6L293.8 300.3L297.2 298.2L297.8 298.2L302.2 300.9L302.8 300.9L305.2 300.3L305.8 299.2L306.2 296.9L308.8 271.7L311.8 294.7L312.2 296.1L312.8 295L313.2 292.4L314.8 280.2L315.2 277.7L318.8 271.4L322.2 250.1L322.8 247.9L331.2 226.5L336.2 223.7L339.8 220.7L343.8 212.9L347.2 215.7L347.8 216.5L351.8 226.6L352.2 227.5L352.8 227.2L354.8 223.1L355.2 220.2L357.2 200.6L357.2 201.2L355.2 220.9L354.8 223.9L352.8 227.8L352.2 228.1L351.8 227.3L347.8 217.4L347.2 216.6L343.8 213.9L339.8 221.5L336.2 224.6L331.2 227.2L322.8 248.1L322.2 250.3L318.8 271.9L315.2 278.3L314.8 281L313.2 294.5L312.8 297.2L312.2 298.2L311.8 296.6L308.8 272.5L306.2 298.9L305.8 300.8L305.2 301.8L302.8 302.3L302.2 302.2L297.8 300L297.2 300L293.8 301.8L288.8 305.5L285.2 297.3L284.2 295.5L281.2 282.5L277.8 257.4L277.2 257.6L272.2 296.9L270.2 305.9L269.8 307.4L267.8 310.6L267.2 311L258.8 311L257.8 309.5Z" fill="#a8d699"/>
<path d="M257.8 308.5L258.8 311L267.2 311L267.8 310.3L269.8 304.8L272.2 296.1L272.8 292.8L277.2 249.5L277.8 249.3L281.2 280.7L284.2 285.8L284.8 286.3L285.2 287.5L288.8 301.5L293.8 295.1L297.2 292.1L297.8 292.1L302.2 295.9L302.8 296.1L305.2 295.2L305.8 293.4L306.2 290.1L308.8 268.9L311.8 288.1L312.2 288.9L313.2 285.2L314.8 277.4L315.2 275.6L318.8 269.6L322.2 249.3L322.8 247.2L326.2 238L331.2 223.8L339.8 217.8L340.2 217.1L343.8 209.3L347.2 212.6L347.8 213.5L352.2 225.4L352.8 225.3L354.8 220.6L355.2 217.6L357.2 198.4L357.2 200.6L355.2 220.2L354.8 223.1L352.8 227.2L352.2 227.5L351.8 226.6L347.8 216.5L347.2 215.7L343.8 212.9L339.8 220.7L336.2 223.7L331.2 226.5L322.8 247.9L322.2 250.1L318.8 271.4L315.2 277.7L314.8 280.2L313.2 292.4L312.8 295L312.2 296.1L311.8 294.7L308.8 271.7L306.2 296.9L305.8 299.2L305.2 300.3L302.8 300.9L302.2 300.9L297.8 298.2L297.2 298.2L293.8 300.3L288.8 304.6L285.2 295.1L284.2 293.3L281.2 282.1L277.8 255.6L277.2 255.8L272.8 293.5L272.2 296.7L269.8 306.8L267.8 310.5L267.2 311L258.8 311L257.8 309.3Z" fill="#cfa2d2"/>
<path d="M257.8 308.1L258.8 311L267.2 311L267.8 310.2L272.2 295.8L272.8 292.4L277.2 246.3L277.8 246.2L281.2 280L284.8 282.3L285.2 283.7L288.8 300L293.8 292.5L297.2 289L297.8 289L302.2 293.5L302.8 293.6L305.2 292.6L305.8 290.6L308.8 267.5L311.8 284.8L312.2 285.3L315.2 274.6L318.8 268.8L322.8 246.8L326.2 237.5L331.2 222.5L336.2 218.8L339.8 216.4L340.2 215.7L343.8 207.5L347.2 211L347.8 211.9L352.2 224.3L352.8 224.4L354.8 219.4L355.2 216.4L357.2 197.4L357.2 198.4L355.2 217.6L354.8 220.6L352.8 225.3L352.2 225.4L347.8 213.5L347.2 212.6L343.8 209.3L340.2 217.1L339.8 217.8L331.2 223.8L326.2 238L322.8 247.2L322.2 249.3L318.8 269.6L315.2 275.6L314.8 277.4L313.2 285.2L312.2 288.9L311.8 288.1L308.8 268.9L306.2 290.1L305.8 293.4L305.2 295.2L302.8 296.1L302.2 295.9L297.8 292.1L297.2 292.1L293.8 295.1L288.8 301.5L285.2 287.5L284.8 286.3L284.2 285.8L281.2 280.7L277.8 249.3L277.2 249.5L272.8 292.8L272.2 296.1L269.8 304.8L267.8 310.3L267.2 311L258.8 311L257.8 308.5Z" fill="#e2b8ea"/>
<path d="M356.8 204.9L357.8 196L359.8 183L361.2 175.3L363.2 167.6L365.2 168.2L367.2 169.9L371.2 181L372.2 179.8L372.2 186.5L368.8 190L365.2 186.5L364.8 186.4L361.2 188.8L357.8 201.6L356.8 210.2Z" fill="#f3e4a6"/>
<path d="M356.8 204L357.8 195L359.8 181L361.2 172.8L363.2 164L365.2 164.9L367.2 166.4L367.8 167.6L371.2 179.8L372.2 178.5L372.2 179.8L371.2 181L367.2 169.9L365.2 168.2L363.2 167.6L361.2 175.3L359.8 183L357.8 196L356.8 204.9Z" fill="#c4e6f2"/>
<path d="M356.8 203.3L357.8 194.3L359.8 179.6L361.2 171.2L363.2 161.6L365.2 162.6L367.2 164.1L367.8 165.3L371.2 179L372.2 177.7L372.2 178.5L371.2 179.8L367.8 167.6L367.2 166.4L365.2 164.9L363.2 164L361.2 172.8L359.8 181L357.8 195L356.8 204Z" fill="#c9bdf7"/>
<path d="M356.8 203L357.8 193.9L359.8 178.9L363.2 160.3L365.2 161.5L367.2 163L367.8 164.2L371.2 178.6L372.2 177.3L372.2 177.7L371.2 179L367.8 165.3L367.2 164.1L365.2 162.6L363.2 161.6L361.2 171.2L359.8 179.6L357.8 194.3L356.8 203.3Z" fill="#a8d699"/>
<path d="M356.8 202.1L359.8 177L363.2 157L367.2 159.8L367.8 161.2L371.2 177.5L372.2 176.2L372.2 177.3L371.2 178.6L367.8 164.2L367.2 163L365.2 161.5L363.2 160.3L359.8 178.9L357.8 193.9L356.8 203Z" fill="#e2b8ea"/>
<path d="M371.8 186.2L373.8 184.1L377.2 183.4L377.8 183.5L382.2 187.5L383.8 189L386.2 192.8L386.2 193.3L383.8 190L377.8 184.7L377.2 184.5L373.8 185L371.8 187Z" fill="#f3e4a6"/>
<path d="M371.8 179.9L374.8 176.4L377.2 174.5L378.8 173.8L382.2 178L382.8 178.9L386.2 188.4L386.2 192.8L383.8 189L382.2 187.5L377.8 183.5L377.2 183.4L373.8 184.1L371.8 186.2Z" fill="#c4e6f2"/>
<path d="M371.8 178.9L374.8 175.2L377.2 173.1L378.8 172.1L382.2 176.5L382.8 177.5L386.2 187.7L386.2 188.4L382.8 178.9L382.2 178L378.8 173.8L377.2 174.5L374.8 176.4L371.8 179.9Z" fill="#c9bdf7"/>
<path d="M371.8 178.4L375.2 174.1L378.8 171.3L382.2 175.7L382.8 176.8L386.2 187.3L386.2 187.7L382.8 177.5L382.2 176.5L378.8 172.1L377.2 173.1L374.8 175.2L371.8 178.9Z" fill="#a8d699"/>
<path d="M371.8 176.8L375.2 172.2L378.8 168.8L382.2 173.4L382.8 174.6L386.2 186.2L386.2 187.3L382.8 176.8L382.2 175.7L378.8 171.3L375.2 174.1L371.8 178.4Z" fill="#e2b8ea"/>
<path d="M385.8 189.3L386.2 190.4L387.2 189.7L387.8 188.4L389.8 178.6L390.2 178.8L395.2 206.7L398.8 220.9L402.2 217.9L402.8 212.7L404.2 183.1L404.2 188.2L402.8 219.8L402.2 225.2L398.8 228.8L396.2 212.5L390.2 181.2L389.8 181.5L387.8 193.5L387.2 194.7L385.8 192.7Z" fill="#d9b5d9"/>
<path d="M385.8 184.6L386.2 186.2L389.8 174.6L390.2 175.4L392.8 191.5L395.2 206L395.8 207.7L398.8 210L402.2 207.7L402.8 203L404.2 176L404.2 183.1L402.8 212.7L402.2 217.9L398.8 220.9L395.2 206.7L390.2 178.8L389.8 178.6L387.8 188.4L387.2 189.7L386.2 190.4L385.8 189.3Z" fill="#f1abba"/>
<path d="M403.8 190.5L404.8 171.3L405.2 166.2L409.8 161.5L410.2 159.7L413.8 138L421.2 142.5L424.8 164.9L425.2 165.7L428.2 144.8L428.2 165L425.8 177.5L425.2 177.5L421.2 157.5L417.8 149.3L417.2 148.8L413.8 150L410.2 164L409.8 165.4L405.2 172.1L404.8 177.8L403.8 198.8Z" fill="#f2a9b6"/>
<path d="M403.8 185L404.8 167L405.2 162.3L409.8 158.9L410.2 156.8L413.8 130L417.2 134.2L417.8 134.4L421.2 132.5L424.8 158.2L425.2 157.8L428.2 131.4L428.2 144.8L425.2 165.7L424.8 164.9L421.2 142.5L413.8 138L410.2 159.7L409.8 161.5L405.2 166.2L404.8 171.3L403.8 190.5Z" fill="#f1abba"/>
<path d="M427.8 164.3L429.8 154.5L430.2 153.6L433.8 157L437.2 169.4L437.8 172.6L440.2 194.9L443.8 213.7L444.8 230.4L445.2 235.8L446.2 240.7L446.2 243.5L445.2 238.7L444.8 233L443.8 215L440.2 196.3L437.8 174.8L437.2 171.7L433.8 160L430.2 156.5L429.8 157.5L427.8 167.5Z" fill="#f2a9b6"/>
<path d="M427.8 161.2L428.8 155.4L429.8 151.5L430.2 150.8L433.8 154L437.2 167.1L440.2 193.4L443.8 212.3L444.8 227.8L445.2 232.9L446.2 237.8L446.2 240.7L445.2 235.8L444.8 230.4L443.8 213.7L440.2 194.9L437.8 172.6L437.2 169.4L433.8 157L430.2 153.6L429.8 154.5L427.8 164.3Z" fill="#d9b5d9"/>
<path d="M427.8 153.2L428.8 146.5L429.8 144L430.2 143.6L433.8 146.5L437.2 161.3L440.2 189.7L443.8 209L444.8 221.3L445.2 225.6L446.2 230.7L446.2 237.8L445.2 232.9L444.8 227.8L443.8 212.3L440.2 193.4L437.2 167.1L433.8 154L430.2 150.8L429.8 151.5L428.8 155.4L427.8 161.2Z" fill="#f7cfae"/>
<path d="M427.8 146.9L428.8 139.4L429.8 138.1L430.2 137.9L433.8 140.5L437.2 156.7L440.2 186.7L443.8 206.3L444.8 216.1L445.2 219.8L446.2 225L446.2 230.7L445.2 225.6L444.8 221.3L443.8 209L440.2 189.7L437.2 161.3L433.8 146.5L430.2 143.6L429.8 144L428.8 146.5L427.8 153.2Z" fill="#c9bdf7"/>
<path d="M427.8 139L428.8 130.6L430.2 130.8L433.8 133L437.2 151L440.2 183L446.2 217.8L446.2 225L445.2 219.8L444.8 216.1L443.8 206.3L440.2 186.7L437.2 156.7L433.8 140.5L430.2 137.9L429.8 138.1L428.8 139.4L427.8 146.9Z" fill="#f0908c"/>
<path d="M427.8 135.8L428.8 127L433.8 130L437.2 148.7L440.2 181.5L442.8 196.3L446.2 215L446.2 217.8L440.2 183L437.2 151L433.8 133L430.2 130.8L428.8 130.6L427.8 139Z" fill="#a8d699"/>
<path d="M445.8 232.5L451.2 260.8L456.2 274.3L457.2 273.8L457.8 273.4L461.2 268.4L465.2 251.6L471.2 236.5L473.8 261.8L476.2 282.2L481.2 277.1L485.2 256.1L487.8 245.3L488.8 243.1L491.2 250.2L494.8 244.9L498.8 233.2L502.2 220.2L502.8 221.6L505.2 244.8L505.8 248L507.8 256L511.2 264.9L515.2 247.4L518.8 236.9L521.2 265L521.2 272.5L518.8 242.5L515.2 256.5L511.2 275L505.8 255.9L505.2 252.7L502.8 229.8L502.2 228.3L498.8 240L495.2 254L494.8 255.3L491.2 260L488.8 251.2L485.2 264.1L481.2 285L476.2 291.2L473.8 270L471.2 242.5L465.2 256.9L461.2 272.5L456.2 281.2L451.2 267.5L445.8 241.1Z" fill="#cfa2d2"/>
<path d="M445.8 226.1L451.2 255.8L456.2 269.2L457.2 269.7L457.8 269.5L461.2 265.4L465.2 247.7L471.2 232.1L473.8 255.7L476.2 275.6L481.2 271.4L487.2 239.8L487.8 238.2L488.8 237.2L491.2 243.1L495.2 236.2L498.8 228.3L502.2 214.2L502.8 215.6L505.2 239.1L507.2 249.3L507.8 251L511.2 257.4L515.2 240.7L518.8 232.8L521.2 259.5L521.2 265L518.8 236.9L515.2 247.4L511.2 264.9L507.8 256L505.8 248L505.2 244.8L502.8 221.6L502.2 220.2L498.8 233.2L494.8 244.9L491.2 250.2L488.8 243.1L487.8 245.3L485.2 256.1L481.2 277.1L476.2 282.2L473.8 261.8L471.2 236.5L465.2 251.6L461.2 268.4L457.8 273.4L457.2 273.8L456.2 274.3L451.2 260.8L445.8 232.5Z" fill="#e2b8ea"/>
<path d="M445.8 224.4L451.2 254.4L456.2 267.8L457.2 268.5L457.8 268.5L461.2 264.5L465.2 246.7L471.2 230.9L473.8 254.1L476.2 273.9L481.2 269.8L487.2 237.9L487.8 236.3L488.8 235.5L491.2 241.2L495.2 234.2L498.8 226.9L502.2 212.6L502.8 214L505.2 237.5L507.2 248L507.8 249.6L511.2 255.4L514.8 240.4L515.2 238.9L518.8 231.6L521.2 258L521.2 259.5L518.8 232.8L515.2 240.7L511.2 257.4L507.8 251L507.2 249.3L505.2 239.1L502.8 215.6L502.2 214.2L498.8 228.3L495.2 236.2L491.2 243.1L488.8 237.2L487.8 238.2L487.2 239.8L481.2 271.4L476.2 275.6L473.8 255.7L471.2 232.1L465.2 247.7L461.2 265.4L457.8 269.5L457.2 269.7L456.2 269.2L451.2 255.8L445.8 226.1Z" fill="#a8d699"/>
<path d="M445.8 217.5L451.2 249.1L456.2 262.2L457.2 264L457.8 264.2L461.2 261.2L465.2 242.5L471.2 226.1L473.8 247.4L476.2 266.6L481.2 263.5L484.2 248.3L487.2 230L487.8 228.6L488.8 229L491.2 233.3L494.8 226.8L498.8 221.6L502.2 206.1L502.8 207.4L505.2 231.2L507.2 242.6L507.8 244.2L511.2 247.3L514.8 232.9L515.2 231.6L518.8 227.1L521.2 252L521.2 258L518.8 231.6L515.2 238.9L514.8 240.4L511.2 255.4L507.8 249.6L507.2 248L505.2 237.5L502.8 214L502.2 212.6L498.8 226.9L495.2 234.2L491.2 241.2L488.8 235.5L487.8 236.3L487.2 237.9L481.2 269.8L476.2 273.9L473.8 254.1L471.2 230.9L465.2 246.7L461.2 264.5L457.8 268.5L457.2 268.5L456.2 267.8L451.2 254.4L445.8 224.4Z" fill="#f7cfae"/>
<path d="M445.8 212.3L451.2 245L457.2 260.6L457.8 261.1L461.2 258.8L465.2 239.3L471.2 222.5L476.2 261.2L481.2 258.8L484.2 243.8L487.2 224.2L487.8 222.8L491.2 227.5L494.8 220.5L495.2 219.8L498.8 217.5L502.2 201.2L502.8 202.5L505.2 226.5L507.2 238.5L507.8 240.1L511.2 241.2L514.8 227.2L515.2 226.1L518.8 223.8L521.2 247.5L521.2 252L518.8 227.1L515.2 231.6L514.8 232.9L511.2 247.3L507.8 244.2L507.2 242.6L505.2 231.2L502.8 207.4L502.2 206.1L498.8 221.6L494.8 226.8L491.2 233.3L488.8 229L487.8 228.6L487.2 230L484.2 248.3L481.2 263.5L476.2 266.6L473.8 247.4L471.2 226.1L465.2 242.5L461.2 261.2L457.8 264.2L457.2 264L456.2 262.2L451.2 249.1L445.8 217.5Z" fill="#f0908c"/>
<path d="M520.8 249.4L521.2 254.5L523.8 269.6L526.2 264L527.8 266.8L529.8 272.3L530.2 273.3L533.8 276.2L537.2 272.8L537.8 271.8L541.8 260.1L545.2 268.5L548.8 274.5L549.2 274.1L552.2 265.7L553.2 259.3L553.2 264.6L551.8 276.4L549.2 290L545.2 282.9L541.8 276.2L537.8 288L533.8 298.8L527.8 285.6L527.2 285.4L523.8 291.2L521.2 272.5L520.8 266.5Z" fill="#d9b5d9"/>
<path d="M520.8 247.5L521.2 252.5L523.8 267.2L526.2 261.4L527.8 264.7L529.8 270.4L530.2 271.3L533.8 273.8L537.2 270.9L537.8 270L541.8 258.2L545.2 266.9L548.8 272.8L549.2 272.3L552.2 264.9L553.2 258.7L553.2 259.3L552.2 265.7L549.2 274.1L548.8 274.5L545.2 268.5L541.8 260.1L537.8 271.8L537.2 272.8L533.8 276.2L530.2 273.3L529.8 272.3L527.8 266.8L526.2 264L523.8 269.6L521.2 254.5L520.8 249.4Z" fill="#f3e4a6"/>
<path d="M520.8 245.6L521.2 250.5L523.8 264.9L526.2 258.9L529.8 268.4L530.2 269.3L533.8 271.2L537.2 269.1L537.8 268.2L541.8 256.4L545.2 265.3L548.8 271.2L549.2 270.6L552.2 264.1L553.2 258.1L553.2 258.7L552.2 264.9L549.2 272.3L548.8 272.8L545.2 266.9L541.8 258.2L537.8 270L537.2 270.9L533.8 273.8L530.2 271.3L529.8 270.4L527.8 264.7L526.2 261.4L523.8 267.2L521.2 252.5L520.8 247.5Z" fill="#e2b8ea"/>
<path d="M520.8 242.8L521.2 247.5L523.8 261.2L526.2 255L529.8 265.5L530.2 266.3L533.8 267.5L537.2 266.3L537.8 265.5L541.8 253.8L545.2 262.9L548.8 268.8L552.2 262.9L553.2 257.2L553.2 258.1L552.2 264.1L549.2 270.6L548.8 271.2L545.2 265.3L541.8 256.4L537.8 268.2L537.2 269.1L533.8 271.2L530.2 269.3L529.8 268.4L526.2 258.9L523.8 264.9L521.2 250.5L520.8 245.6Z" fill="#f7cfae"/>
<path d="M552.8 267.6L554.8 251.3L555.2 248.5L557.2 242.4L557.8 242L559.8 244.7L560.2 244L563.8 228.5L566.2 220.2L569.8 209.9L570.2 209.1L576.2 207.6L580.2 189.2L584.8 178.5L585.8 176.6L589.8 186.6L592.8 192.7L593.2 191.5L596.2 169.7L596.2 174.7L593.2 198.1L592.8 199.4L585.8 181.2L580.2 194.4L576.2 212.5L570.2 212.5L569.8 213.2L566.2 222.5L563.8 230L560.2 246.3L559.8 247.1L557.8 244.1L557.2 244.4L555.2 249.4L554.8 252.1L552.8 268.8Z" fill="#f2a9b6"/>
<path d="M552.8 265.9L555.2 247.3L557.2 239.9L557.8 239.2L559.8 241.5L560.2 240.8L563.8 226.5L566.2 217.2L569.8 205.5L570.2 204.5L576.2 201.1L580.2 182.2L584.8 171.6L585.2 170.8L585.8 170.4L590.2 180.8L592.8 183.9L593.2 182.8L593.8 180L596.2 163L596.2 169.7L593.2 191.5L592.8 192.7L589.8 186.6L585.8 176.6L584.8 178.5L580.2 189.2L576.2 207.6L570.2 209.1L569.8 209.9L566.2 220.2L563.8 228.5L560.2 244L559.8 244.7L557.8 242L557.2 242.4L555.2 248.5L554.8 251.3L552.8 267.6Z" fill="#cfa2d2"/>
<path d="M552.8 260.8L554.8 246.8L557.2 231.5L557.8 230.1L559.8 231.1L560.2 230.5L563.8 220L569.8 191.2L570.2 189.6L576.2 180L579.8 161.3L580.2 159.4L584.8 149.3L585.2 149.2L589.8 158.2L590.2 158.4L593.8 153.8L596.2 141.2L596.2 163L593.8 180L593.2 182.8L592.8 183.9L590.2 180.8L585.8 170.4L585.2 170.8L584.8 171.6L580.2 182.2L576.2 201.1L570.2 204.5L569.8 205.5L566.2 217.2L563.8 226.5L560.2 240.8L559.8 241.5L557.8 239.2L557.2 239.9L555.2 247.3L552.8 265.9Z" fill="#d9b5d9"/>
<path d="M642.8 212.2L645.2 219L652.2 227.2L652.8 228.2L657.2 240L661.2 258.1L662.2 261.8L662.8 261.8L666.2 248.4L670.2 243.4L674.8 237.2L675.2 237.2L676.2 238.4L681.2 248.4L686.2 259.4L692.2 266.2L692.8 267.4L693.8 271.4L695.2 279.7L696.8 297.2L697.2 301.1L697.2 311L696.8 307.5L695.8 293.5L695.2 289L692.8 278.5L692.2 277.4L686.2 275L675.2 253L674.8 252.9L670.2 259.6L666.2 265L662.8 279L662.2 278.5L657.8 251.5L657.2 249.4L652.8 238.1L652.2 237.2L645.2 227.8L642.8 220.8Z" fill="#f2a9b6"/>
<path d="M642.8 209.1L644.8 214.9L645.2 215.9L652.2 223.6L652.8 224.6L657.2 236.6L661.2 252.9L662.2 255.8L662.8 255.6L666.2 242.5L670.2 237.6L674.8 231.6L675.2 231.5L676.2 232.5L681.2 242.5L686.2 253.8L692.2 262.1L692.8 263.5L693.8 267.3L695.2 276.4L696.8 293.6L697.2 297.5L697.2 301.1L696.8 297.2L695.2 279.7L693.8 271.4L692.8 267.4L692.2 266.2L686.2 259.4L681.2 248.4L676.2 238.4L675.2 237.2L674.8 237.2L670.2 243.4L666.2 248.4L662.8 261.8L662.2 261.8L661.2 258.1L657.2 240L652.8 228.2L652.2 227.2L645.2 219L642.8 212.2Z" fill="#dcbcae"/>
<path d="M642.8 207.4L644.8 213.1L645.2 214.1L652.2 221.6L652.8 222.6L657.2 234.7L661.2 250.1L662.2 252.5L662.8 252.1L666.2 239.2L670.2 234.3L674.8 228.5L675.2 228.3L676.2 229.2L681.2 239.2L686.2 250.6L692.2 259.9L692.8 261.2L693.8 265.1L695.2 274.5L697.2 295.5L697.2 297.5L696.8 293.6L695.2 276.4L693.8 267.3L692.8 263.5L692.2 262.1L686.2 253.8L681.2 242.5L676.2 232.5L675.2 231.5L674.8 231.6L670.2 237.6L666.2 242.5L662.8 255.6L662.2 255.8L661.2 252.9L657.2 236.6L652.8 224.6L652.2 223.6L645.2 215.9L644.8 214.9L642.8 209.1Z" fill="#eaa3d6"/>
<path d="M642.8 186.5L644.8 191.8L645.2 192.7L652.2 197.3L652.8 198.2L657.2 211.8L657.8 212.7L661.2 215L666.2 198.8L676.2 188.8L681.2 198.8L686.2 212.5L693.8 237.5L697.2 271.3L697.2 295.5L695.2 274.5L693.8 265.1L692.8 261.2L692.2 259.9L686.2 250.6L681.2 239.2L676.2 229.2L675.2 228.3L674.8 228.5L670.2 234.3L666.2 239.2L662.8 252.1L662.2 252.5L661.2 250.1L657.2 234.7L652.8 222.6L652.2 221.6L645.2 214.1L644.8 213.1L642.8 207.4Z" fill="#d9b5d9"/>
<path d="M696.8 268.1L697.2 272.9L697.8 275.2L702.2 274.1L702.8 273.7L706.2 269.2L708.8 260.8L712.2 277.6L712.8 282.9L714.2 307L714.8 311L714.8 311L697.2 311L696.8 307.5Z" fill="#d9b5d9"/>
<path d="M696.8 266.5L697.2 271.3L697.8 273.7L702.2 272.6L702.8 272.2L706.2 267.5L708.8 258.8L712.2 276.2L712.8 281.7L714.2 306.8L714.8 311L714.8 311L714.2 307L712.8 282.9L712.2 277.6L708.8 260.8L706.2 269.2L702.8 273.7L702.2 274.1L697.8 275.2L697.2 272.9L696.8 268.1Z" fill="#f3e4a6"/>
<path d="M839.8 311L840.2 310.1L848.8 278L852.8 290.4L857.8 297.9L864.2 309.6L864.2 311L839.8 311Z" fill="#f1abba"/>
<path d="M864.2 309.7L864.8 310.6L865.2 310.1L867.8 301.5L868.2 300.6L871.8 299.5L873.8 296.5L873.8 311L864.2 311Z" fill="#d9b5d9"/>
<path d="M864.2 309.6L864.8 310.6L865.2 310.1L867.8 300.9L868.2 299.9L871.8 298.8L873.8 295.6L873.8 296.5L871.8 299.5L868.2 300.6L867.8 301.5L865.2 310.1L864.8 310.6L864.2 309.7Z" fill="#f3e4a6"/>
<path d="M873.2 299.6L877.8 294L881.8 291.3L885.8 295L890.2 302L895.2 310.6L895.8 311L896.2 311L896.2 311L873.2 311Z" fill="#eaa3d6"/>
<path d="M873.2 297.2L877.8 290.5L878.2 289.9L881.8 287.3L885.8 291.7L890.2 300.2L895.2 310.5L895.8 311L896.2 311L896.2 311L895.8 311L895.2 310.6L890.2 302L885.8 295L881.8 291.3L877.8 294L873.2 299.6Z" fill="#d9b5d9"/>
<path d="M873.2 296.4L877.8 289.1L878.2 288.6L881.8 285.8L885.2 289.7L885.8 290.5L890.2 299.5L895.2 310.4L895.8 311L896.2 311L896.2 311L895.8 311L895.2 310.5L890.2 300.2L885.8 291.7L881.8 287.3L878.2 289.9L877.8 290.5L873.2 297.2Z" fill="#f3e4a6"/>
<path d="M595.8 173.4L597.2 162.3L597.8 159.8L599.8 155.7L600.2 155.7L602.8 160.9L604.8 164.1L605.2 164.2L608.8 160.8L616.2 186.7L619.8 181.1L620.2 179.7L624.2 161.1L624.8 159.2L625.2 158.9L627.8 165.8L633.8 184.9L637.2 192.1L638.8 195.6L642.2 213.6L643.2 217.1L643.2 222.2L642.2 218.7L638.8 200L633.8 190L625.2 164.5L624.8 164.9L620.2 186.3L619.8 188L616.2 195L608.8 165L605.2 169.7L604.8 169.6L600.2 162.4L599.8 162.3L597.8 164.7L597.2 166.9L595.8 178.6Z" fill="#f2a9b6"/>
<path d="M595.8 166.4L597.8 153.3L599.8 146.8L600.2 146.7L602.8 153.7L603.2 154.7L604.8 156.8L605.2 157L608.8 155.2L616.2 175.6L619.8 171.9L620.2 170.9L624.2 152.8L624.8 151.5L625.2 151.5L627.8 157.6L630.8 168.8L633.2 176.8L637.2 185.6L638.8 189.8L641.2 202.5L642.2 206.9L643.2 210.2L643.2 217.1L642.2 213.6L638.8 195.6L637.2 192.1L633.8 184.9L627.8 165.8L625.2 158.9L624.8 159.2L624.2 161.1L620.2 179.7L619.8 181.1L616.2 186.7L608.8 160.8L605.2 164.2L604.8 164.1L602.8 160.9L600.2 155.7L599.8 155.7L597.8 159.8L597.2 162.3L595.8 173.4Z" fill="#cfa2d2"/>
<path d="M595.8 143.8L596.2 142.6L596.8 142.6L597.8 141.3L598.2 141.4L598.8 140.5L599.8 135.8L600.2 135.5L602.8 144.7L603.2 145.9L604.8 147.8L605.2 148.1L608.8 148.4L616.2 162.4L619.8 161.1L620.2 160.6L624.2 143.2L624.8 142.6L625.2 142.9L625.8 143.9L626.2 144.2L627.8 142.1L628.2 142.1L631.2 148L633.2 155.1L637.2 164.4L641.2 182.5L643.2 187.8L643.2 210.2L642.2 206.9L641.2 202.5L638.8 189.8L637.2 185.6L633.2 176.8L630.8 168.8L627.8 157.6L625.2 151.5L624.8 151.5L624.2 152.8L620.2 170.9L619.8 171.9L616.2 175.6L608.8 155.2L605.2 157L604.8 156.8L603.2 154.7L602.8 153.7L600.2 146.7L599.8 146.8L597.8 153.3L595.8 166.4Z" fill="#d9b5d9"/>
<path d="M595.8 143.8L597.2 135.7L599.8 118L600.2 117.5L602.8 130L603.2 131.5L609.2 137.5L615.2 138.9L620.2 142.2L624.2 125.8L627.8 130.9L628.2 132.7L630.8 146.2L632.8 153.6L637.2 164.4L641.2 182.5L644.8 191.8L645.2 192.7L652.2 197.3L652.2 197.3L645.2 192.7L644.8 191.8L641.2 182.5L637.2 164.4L633.2 155.1L631.2 148L628.2 142.1L627.8 142.1L626.2 144.2L625.8 143.9L625.2 142.9L624.8 142.6L624.2 143.2L620.2 160.6L619.8 161.1L616.2 162.4L608.8 148.4L605.2 148.1L604.8 147.8L603.2 145.9L602.8 144.7L600.2 135.5L599.8 135.8L598.8 140.5L598.2 141.4L597.8 141.3L596.8 142.6L596.2 142.6L595.8 143.8Z" fill="#dcdcab"/>
<path d="M33.2 311L35.2 321.8L37.2 334.6L37.8 334.4L39.2 323.9L40.8 316.2L44.2 324.6L44.8 324L47.2 312.2L47.8 311L60.2 311L60.2 311L33.2 311Z" fill="#e8b3d3"/>
<path d="M33.2 311L35.2 324.5L37.2 340.5L37.8 340.3L39.2 327.2L40.8 317.5L44.2 328L44.8 327.3L47.2 312.5L47.8 311L60.2 311L60.2 311L47.8 311L47.2 312.2L44.8 324L44.2 324.6L40.8 316.2L39.2 323.9L37.8 334.4L37.2 334.6L35.2 321.8L33.2 311Z" fill="#f3e4a6"/>
<path d="M59.8 311L70.8 311L72.2 319.9L72.8 321.6L76.2 324.7L79.8 322.6L80.2 321.3L82.2 312.1L82.8 311L240.2 311L240.2 311L59.8 311Z" fill="#e8b3d3"/>
<path d="M59.8 311L70.8 311L72.2 320.9L72.8 322.8L76.2 326.2L79.8 323.9L80.2 322.5L82.2 312.3L82.8 311L240.2 311L240.2 311L82.8 311L82.2 312.1L80.2 321.3L79.8 322.6L76.2 324.7L72.8 321.6L72.2 319.9L70.8 311L59.8 311Z" fill="#f3e4a6"/>
<path d="M239.8 311L244.8 311L245.2 312.8L246.2 320.2L249.8 317.1L250.2 317.2L253.8 322.5L254.8 321.6L255.2 321.6L259.8 326.7L263.8 336L266.8 332.9L267.2 331.7L270.2 320.7L273.8 311L284.8 311L285.2 311.6L289.8 323L290.2 323.1L293.8 316.9L297.2 327.4L297.8 327.9L304.8 321.6L305.2 319.3L306.2 311L311.2 311L312.8 316L313.2 315.9L314.2 312L314.8 311L320.2 311L320.2 311L239.8 311Z" fill="#e8b3d3"/>
<path d="M239.8 311L244.8 311L245.2 312.9L246.2 320.7L249.8 317.4L250.2 317.6L253.8 323.1L254.8 322.2L255.2 322.2L259.8 327.6L263.8 337.4L266.8 334.1L267.2 332.8L270.2 321.2L273.8 311L284.8 311L285.2 311.7L289.8 323.6L290.2 323.8L293.8 317.2L297.2 328.3L297.8 328.8L304.8 322.2L305.2 319.7L306.2 311L311.2 311L312.8 316.3L313.2 316.1L314.2 312L314.8 311L320.2 311L320.2 311L314.8 311L314.2 312L313.2 315.9L312.8 316L311.2 311L306.2 311L305.2 319.3L304.8 321.6L297.8 327.9L297.2 327.4L293.8 316.9L290.2 323.1L289.8 323L285.2 311.6L284.8 311L273.8 311L270.2 320.7L267.2 331.7L266.8 332.9L263.8 336L259.8 326.7L255.2 321.6L254.8 321.6L253.8 322.5L250.2 317.2L249.8 317.1L246.2 320.2L245.2 312.8L244.8 311L239.8 311Z" fill="#d9b5d9"/>
<path d="M239.8 311L244.8 311L245.2 313.1L246.2 321.2L249.8 317.8L250.2 317.9L253.8 323.8L254.8 322.8L255.2 322.8L259.8 328.4L263.8 338.8L266.8 335.3L267.2 334L270.2 321.7L273.8 311L284.8 311L285.2 311.7L289.8 324.3L290.2 324.5L293.8 317.5L297.2 329.2L297.8 329.8L304.8 322.8L305.2 320.2L306.2 311L311.2 311L312.8 316.6L313.2 316.4L314.2 312.1L314.8 311L320.2 311L320.2 311L314.8 311L314.2 312L313.2 316.1L312.8 316.3L311.2 311L306.2 311L305.2 319.7L304.8 322.2L297.8 328.8L297.2 328.3L293.8 317.2L290.2 323.8L289.8 323.6L285.2 311.7L284.8 311L273.8 311L270.2 321.2L267.2 332.8L266.8 334.1L263.8 337.4L259.8 327.6L255.2 322.2L254.8 322.2L253.8 323.1L250.2 317.6L249.8 317.4L246.2 320.7L245.2 312.9L244.8 311L239.8 311Z" fill="#c9bdf7"/>
<path d="M696.8 311L714.2 311L714.8 313.4L716.2 327.5L719.8 332.2L720.2 332.4L724.8 330.1L725.2 330.6L729.8 341.9L735.2 365.7L739.8 378.8L740.2 379.2L743.8 375L747.2 376.2L747.8 376L751.2 372.5L755.2 377.7L755.8 377.5L759.8 369.3L760.2 368.6L764.8 366.4L765.2 365.7L774.8 344.3L775.2 344L780.2 349.1L785.2 356.6L791.2 365L794.8 359.2L798.8 351.2L802.2 350.1L802.8 349.6L809.8 338.4L810.2 338.5L813.8 345L817.2 353.2L817.8 353.8L822.2 353.8L822.8 353.2L826.2 346.2L831.2 335L835.2 323.1L839.8 311.6L840.2 311L895.2 311L895.8 311.9L901.8 332.5L905.2 354L907.8 368.5L908.2 370.6L914.2 383.8L918.2 378.5L922.8 374L923.2 374.2L926.8 380L930.2 373L930.8 372.4L935.2 371.3L935.8 371.4L938.2 372.4L938.2 311L696.8 311Z" fill="#f6c1dd"/>
<path d="M696.8 311L709.8 311L710.2 311.3L714.2 316.8L714.8 319.8L716.2 336L719.8 345.5L720.2 346.4L720.8 346.8L721.2 346.5L724.8 340L725.2 339.8L729.8 344.9L730.2 346L731.8 350.7L735.2 365.7L739.8 378.8L740.2 379.2L743.8 375L747.2 376.2L747.8 376L751.2 372.5L755.2 377.7L755.8 377.5L759.8 369.3L760.2 368.6L764.8 366.4L765.2 365.7L774.8 344.3L775.2 344L780.2 349.1L785.2 356.6L791.2 365L794.8 359.2L798.8 351.2L802.2 350.1L802.8 349.6L809.8 338.4L810.2 338.5L813.8 345L817.2 353.2L817.8 353.8L822.2 353.8L822.8 353.2L823.2 352.2L823.8 352L826.2 354L829.2 355.8L829.8 354.7L831.2 347L835.2 323.8L835.8 321.8L839.8 311.6L840.2 311L857.2 311L857.8 323.2L862.2 332L862.8 331L865.8 312.5L866.2 311L895.2 311L895.8 311.9L901.8 332.5L905.2 354L907.8 368.5L908.2 370.6L914.2 383.8L918.2 378.5L922.8 374L923.2 374.2L926.8 380L927.2 379.2L930.2 375.9L930.8 375.8L936.2 379.3L938.2 378.4L938.2 372.4L935.8 371.4L935.2 371.3L930.8 372.4L930.2 373L926.8 380L923.2 374.2L922.8 374L918.2 378.5L914.2 383.8L908.2 370.6L907.8 368.5L905.2 354L901.8 332.5L895.8 311.9L895.2 311L840.2 311L839.8 311.6L835.2 323.1L831.2 335L826.2 346.2L822.8 353.2L822.2 353.8L817.8 353.8L817.2 353.2L813.8 345L810.2 338.5L809.8 338.4L802.8 349.6L802.2 350.1L798.8 351.2L794.8 359.2L791.2 365L785.2 356.6L780.2 349.1L775.2 344L774.8 344.3L765.2 365.7L764.8 366.4L760.2 368.6L759.8 369.3L755.8 377.5L755.2 377.7L751.2 372.5L747.8 376L747.2 376.2L743.8 375L740.2 379.2L739.8 378.8L735.2 365.7L729.8 341.9L725.2 330.6L724.8 330.1L720.2 332.4L719.8 332.2L716.2 327.5L714.8 313.4L714.2 311L696.8 311Z" fill="#f3e4a6"/>
<path d="M696.8 311L697.2 313L698.8 325L701.2 337.5L706.2 333.8L708.8 317.5L712.2 338.5L712.8 343.5L714.8 371.5L715.8 408.8L719.8 414.6L720.2 415.1L726.2 417.5L729.8 426.8L730.2 426.9L732.2 421.9L732.8 423.4L735.2 443.8L738.8 461.2L742.2 464.8L742.8 464.1L747.2 447.2L747.8 448.4L749.8 465.4L750.2 467.9L753.8 473.8L758.8 467.5L764.8 465.1L769.8 463.8L770.2 463L774.8 449.5L775.2 448.6L786.2 440L789.8 445.8L790.2 445.6L797.2 426.9L797.8 426.1L803.8 423.8L809.8 414.1L810.2 413.7L819.8 410.1L827.2 408.8L827.8 407L831.2 382.5L834.8 366.2L835.2 364.4L839.8 353.1L843.8 337.5L846.2 325L847.2 312.5L848.2 312.5L851.2 325L853.8 316.2L858.8 325L862.2 332L862.8 331L865.8 312.5L866.2 311L895.2 311L895.8 311.9L901.8 332.5L904.8 351L905.2 368.4L908.2 379.4L915.2 396.6L915.8 396.8L922.2 385.9L922.8 386L928.8 398L933.2 387.4L933.8 387.3L938.2 390.8L938.2 378.4L936.2 379.3L930.8 375.8L930.2 375.9L927.2 379.2L926.8 380L923.2 374.2L922.8 374L918.2 378.5L914.2 383.8L908.2 370.6L907.8 368.5L905.2 354L901.8 332.5L895.8 311.9L895.2 311L866.2 311L865.8 312.5L862.8 331L862.2 332L857.8 323.2L857.2 311L840.2 311L839.8 311.6L835.8 321.8L835.2 323.8L831.2 347L829.8 354.7L829.2 355.8L826.2 354L823.8 352L823.2 352.2L822.8 353.2L822.2 353.8L817.8 353.8L817.2 353.2L813.8 345L810.2 338.5L809.8 338.4L802.8 349.6L802.2 350.1L798.8 351.2L794.8 359.2L791.2 365L785.2 356.6L780.2 349.1L775.2 344L774.8 344.3L765.2 365.7L764.8 366.4L760.2 368.6L759.8 369.3L755.8 377.5L755.2 377.7L751.2 372.5L747.8 376L747.2 376.2L743.8 375L740.2 379.2L739.8 378.8L735.2 365.7L731.8 350.7L730.2 346L729.8 344.9L725.2 339.8L724.8 340L721.2 346.5L720.8 346.8L720.2 346.4L719.8 345.5L716.2 336L714.8 319.8L714.2 316.8L710.2 311.3L709.8 311L696.8 311Z" fill="#c4e6f2"/>
<path d="M739.8 462.2L742.2 464.8L742.8 464.1L747.2 447.2L747.8 448.4L749.8 465.4L750.2 467.9L753.8 475L757.2 484.3L757.8 485.1L762.2 487.4L762.8 487.8L767.2 493.4L767.8 493.4L770.2 489.5L773.8 482.5L776.8 475.6L777.2 474.8L779.8 472.7L780.2 473.2L783.8 482.5L786.2 477.5L789.8 484.5L790.2 484.3L793.8 475L797.2 466.8L797.8 466.4L802.2 468.6L802.8 468.1L805.2 462.2L812.8 454.9L819.8 452.6L820.2 453L824.8 462L825.2 461.8L828.8 452.2L838.8 412.5L841.2 398L844.8 373.7L845.2 371L847.8 360.5L848.2 359.5L852.8 374.5L856.8 365.4L864.2 381.9L864.8 380.5L866.8 364.9L869.8 349.3L874.8 332.2L877.2 319.3L877.8 311L880.2 311L880.2 311L866.2 311L865.8 312.5L862.8 331L862.2 332L858.8 325L853.8 316.2L851.2 325L848.2 312.5L847.2 312.5L846.2 325L843.8 337.5L839.8 353.1L835.2 364.4L834.8 366.2L831.2 382.5L827.8 407L827.2 408.8L819.8 410.1L810.2 413.7L809.8 414.1L803.8 423.8L797.8 426.1L797.2 426.9L790.2 445.6L789.8 445.8L786.2 440L775.2 448.6L774.8 449.5L770.2 463L769.8 463.8L764.8 465.1L758.8 467.5L753.8 473.8L750.2 467.9L749.8 465.4L747.8 448.4L747.2 447.2L742.8 464.1L742.2 464.8L739.8 462.2Z" fill="#dcb1ec"/>
<path d="M696.8 311L697.2 313L698.8 325L701.2 338L706.2 334.2L708.8 317.9L712.2 338.7L712.8 343.6L714.8 371.5L715.8 409.9L716.2 411.5L720.2 417.2L724.8 418.7L726.2 419.6L728.8 426.2L729.8 428L730.2 427.8L732.2 422.2L732.8 423.7L735.2 444.7L738.8 463L739.8 464.6L740.2 465.1L742.2 465.9L742.8 465L747.2 448.1L747.8 449.3L749.8 466.3L750.2 468.9L752.2 473.8L752.2 472L750.2 467.9L749.8 465.4L747.8 448.4L747.2 447.2L742.8 464.1L742.2 464.8L738.8 461.2L735.2 443.8L732.8 423.4L732.2 421.9L730.2 426.9L729.8 426.8L726.2 417.5L720.2 415.1L719.8 414.6L715.8 408.8L714.8 371.5L712.8 343.5L712.2 338.5L708.8 317.5L706.2 333.8L701.2 337.5L698.8 325L697.2 313L696.8 311Z" fill="#a8d699"/>
<path d="M696.8 311L697.2 313L698.8 325L701.2 338.9L706.2 334.9L708.8 318.6L712.2 338.9L712.8 343.8L714.8 371.5L715.8 411.5L716.2 414.6L720.2 420.2L724.8 421.5L726.2 422.8L728.8 429.3L729.8 429.8L730.2 429.1L732.2 422.8L732.8 424.3L735.2 446.1L738.8 465.6L739.8 468.2L740.2 468.7L742.2 467.5L742.8 466.4L747.2 449.4L747.8 450.6L749.8 467.6L750.2 470.4L752.2 476.5L752.2 473.8L750.2 468.9L749.8 466.3L747.8 449.3L747.2 448.1L742.8 465L742.2 465.9L740.2 465.1L739.8 464.6L738.8 463L735.2 444.7L732.8 423.7L732.2 422.2L730.2 427.8L729.8 428L728.8 426.2L726.2 419.6L724.8 418.7L720.2 417.2L716.2 411.5L715.8 409.9L714.8 371.5L712.8 343.6L712.2 338.7L708.8 317.9L706.2 334.2L701.2 338L698.8 325L697.2 313L696.8 311Z" fill="#dcbcae"/>
<path d="M696.8 311L697.2 313L698.8 325L701.2 341.6L706.2 337.1L708.8 320.9L712.2 339.8L712.8 344.5L714.8 371.6L715.8 417.1L716.2 424.7L720.2 430.5L724.8 430.7L725.2 431.3L728.8 439.5L732.2 424.6L732.8 426.1L735.2 450.9L739.8 480.1L740.2 480.7L743.8 466.8L747.2 453.9L747.8 455.1L750.2 475.5L752.2 485.5L752.2 476.5L750.2 470.4L749.8 467.6L747.8 450.6L747.2 449.4L742.8 466.4L742.2 467.5L740.2 468.7L739.8 468.2L738.8 465.6L735.2 446.1L732.8 424.3L732.2 422.8L730.2 429.1L729.8 429.8L728.8 429.3L726.2 422.8L724.8 421.5L720.2 420.2L716.2 414.6L715.8 411.5L714.8 371.5L712.8 343.8L712.2 338.9L708.8 318.6L706.2 334.9L701.2 338.9L698.8 325L697.2 313L696.8 311Z" fill="#cfa2d2"/>
<path d="M696.8 311L697.2 313L698.8 325L701.2 342L706.2 337.5L708.8 321.2L712.2 339.9L712.8 344.6L714.8 371.6L715.8 418L716.2 426.4L720.2 432.2L724.8 432.2L725.2 432.9L728.8 441.2L732.2 424.9L732.8 426.4L735.2 451.8L739.8 482.1L740.2 482.7L743.8 467.5L747.2 454.7L747.8 455.9L750.2 476.3L752.2 487L752.2 485.5L750.2 475.5L747.8 455.1L747.2 453.9L743.8 466.8L740.2 480.7L739.8 480.1L735.2 450.9L732.8 426.1L732.2 424.6L728.8 439.5L725.2 431.3L724.8 430.7L720.2 430.5L716.2 424.7L715.8 417.1L714.8 371.6L712.8 344.5L712.2 339.8L708.8 320.9L706.2 337.1L701.2 341.6L698.8 325L697.2 313L696.8 311Z" fill="#c9bdf7"/>
<path d="M751.8 477L753.8 484L757.2 491.8L757.8 492.3L761.2 492.2L762.8 493.6L765.2 496.7L767.2 498.1L767.8 498L768.8 497.2L771.2 491.4L772.2 490.3L772.2 485.5L769.8 490.4L767.8 493.4L767.2 493.4L762.8 487.8L762.2 487.4L757.8 485.1L757.2 484.3L753.8 475L751.8 471Z" fill="#a8d699"/>
<path d="M751.8 479L753.8 487L757.2 494.2L757.8 494.7L761.2 494L765.2 498.6L767.2 499.6L767.8 499.6L768.8 499L771.2 492.8L772.2 491.9L772.2 490.3L771.2 491.4L768.8 497.2L767.8 498L767.2 498.1L765.2 496.7L762.8 493.6L761.2 492.2L757.8 492.3L757.2 491.8L753.8 484L751.8 477Z" fill="#c9bdf7"/>
<path d="M751.8 484.3L753.8 495L757.2 500.8L757.8 501.1L761.2 498.8L764.8 503.4L765.2 503.8L768.8 503.8L771.2 496.2L772.2 496.2L772.2 491.9L771.2 492.8L768.8 499L767.8 499.6L767.2 499.6L765.2 498.6L761.2 494L757.8 494.7L757.2 494.2L753.8 487L751.8 479Z" fill="#cfa2d2"/>
<path d="M771.8 489.4L774.8 485L776.8 480.5L777.2 479.5L777.8 479.2L779.8 478.9L780.2 479.3L783.8 485.9L786.2 479.8L789.8 486.8L790.2 486.6L793.8 477.2L797.2 468.7L797.8 468.2L800.2 469.5L800.2 467.6L797.8 466.4L797.2 466.8L793.8 475L790.2 484.3L789.8 484.5L786.2 477.5L783.8 482.5L780.2 473.2L779.8 472.7L777.2 474.8L776.8 475.6L773.8 482.5L771.8 486.5Z" fill="#c9bdf7"/>
<path d="M771.8 492.4L774.8 489.8L777.2 484.3L777.8 484L780.2 485.5L783.8 489.2L786.2 482L789.8 489L790.2 488.8L797.2 470.6L797.8 470.1L800.2 471.4L800.2 469.5L797.8 468.2L797.2 468.7L793.8 477.2L790.2 486.6L789.8 486.8L786.2 479.8L783.8 485.9L780.2 479.3L779.8 478.9L777.8 479.2L777.2 479.5L776.8 480.5L774.8 485L771.8 489.4Z" fill="#a8d699"/>
<path d="M771.8 493.8L774.8 492.2L775.2 491.5L777.2 486.7L777.8 486.4L780.2 488.6L783.8 490.9L786.2 483.1L789.8 490.1L790.2 490L797.2 471.6L797.8 471.1L800.2 472.3L800.2 471.4L797.8 470.1L797.2 470.6L790.2 488.8L789.8 489L786.2 482L783.8 489.2L780.2 485.5L777.8 484L777.2 484.3L774.8 489.8L771.8 492.4Z" fill="#f7cfae"/>
<path d="M771.8 496.2L774.8 496.2L775.2 495.6L777.2 490.6L777.8 490.4L779.8 493.4L780.2 493.8L783.8 493.8L786.2 485L789.8 492L790.2 491.8L797.2 473.2L797.8 472.6L800.2 473.9L800.2 472.3L797.8 471.1L797.2 471.6L790.2 490L789.8 490.1L786.2 483.1L783.8 490.9L780.2 488.6L777.8 486.4L777.2 486.7L775.2 491.5L774.8 492.2L771.8 493.8Z" fill="#f0908c"/>
<path d="M799.8 468.1L802.2 469.4L802.8 468.9L805.2 462.9L812.2 455.9L812.8 455.5L818.8 453.6L819.8 453.5L820.2 453.9L824.8 462.6L825.2 462.4L828.8 452.2L838.8 412.5L841.2 398.7L845.2 372.2L847.8 361.6L848.2 360.4L849.2 362.5L852.8 376.2L853.2 375.4L856.8 366.1L860.8 375.1L864.2 383.7L864.8 381.9L866.8 366.1L869.2 352.8L870.2 348.3L874.8 333.5L877.2 321.1L877.8 313.7L879.8 313.2L882.8 312L885.8 311.7L889.8 312.6L895.2 314.2L895.8 315.1L896.2 316.7L896.2 313.6L895.8 311.9L895.2 311L877.8 311L877.2 319.3L874.8 332.2L869.8 349.3L866.8 364.9L864.8 380.5L864.2 381.9L856.8 365.4L852.8 374.5L848.2 359.5L847.8 360.5L845.2 371L844.8 373.7L841.2 398L838.8 412.5L828.8 452.2L825.2 461.8L824.8 462L820.2 453L819.8 452.6L812.8 454.9L812.2 455.2L805.2 462.2L802.8 468.1L802.2 468.6L799.8 467.4Z" fill="#c9bdf7"/>
<path d="M799.8 468.8L802.2 470L802.8 469.5L804.8 464.3L805.2 463.4L812.2 456.4L812.8 456L818.8 454.2L819.8 454.2L820.2 454.7L824.8 463.1L825.2 462.9L828.8 452.2L838.8 412.5L841.2 399.4L845.2 373.3L847.8 362.5L848.2 361.2L849.2 362.5L852.8 377.5L853.2 376.9L856.8 366.7L860.8 375.7L864.2 385.1L864.8 383.1L866.8 367.1L869.2 353.6L870.2 349.3L874.8 334.6L877.2 322.6L877.8 315.9L879.8 315L882.8 312.9L885.8 312.3L889.8 314L893.8 316.3L895.2 316.9L895.8 317.8L896.2 319.3L896.2 316.7L895.8 315.1L895.2 314.2L889.8 312.6L885.8 311.7L882.8 312L879.8 313.2L877.8 313.7L877.2 321.1L874.8 333.5L870.2 348.3L869.2 352.8L866.8 366.1L864.8 381.9L864.2 383.7L860.8 375.1L856.8 366.1L853.2 375.4L852.8 376.2L849.2 362.5L848.2 360.4L847.8 361.6L845.2 372.2L841.2 398.7L838.8 412.5L828.8 452.2L825.2 462.4L824.8 462.6L820.2 453.9L819.8 453.5L818.8 453.6L812.8 455.5L812.2 455.9L805.2 462.9L802.8 468.9L802.2 469.4L799.8 468.1Z" fill="#a8d699"/>
<path d="M799.8 471.4L802.2 472.7L802.8 472.1L804.8 466.5L805.2 465.5L812.2 458.5L812.8 458.2L818.8 456.7L820.2 458.1L824.8 465.3L825.2 464.9L828.8 452.2L841.2 402L845.2 377.8L847.8 366.3L848.2 364.5L849.2 362.5L852.8 383.4L853.2 383.5L856.8 369.2L860.8 378.7L864.2 391.2L866.8 371.5L869.2 357.1L874.8 339.1L877.2 329L877.8 325.5L879.8 322.9L882.2 317.4L882.8 316.7L885.2 314.8L885.8 314.8L890.2 320.5L893.8 326.6L895.2 328.4L896.2 330.5L896.2 319.3L895.8 317.8L895.2 316.9L893.8 316.3L889.8 314L885.8 312.3L882.8 312.9L879.8 315L877.8 315.9L877.2 322.6L874.8 334.6L870.2 349.3L869.2 353.6L866.8 367.1L864.8 383.1L864.2 385.1L860.8 375.7L856.8 366.7L853.2 376.9L852.8 377.5L849.2 362.5L848.2 361.2L847.8 362.5L845.2 373.3L841.2 399.4L838.8 412.5L828.8 452.2L825.2 462.9L824.8 463.1L820.2 454.7L819.8 454.2L818.8 454.2L812.8 456L812.2 456.4L805.2 463.4L804.8 464.3L802.8 469.5L802.2 470L799.8 468.8Z" fill="#f0908c"/>
<path d="M799.8 472.1L802.2 473.3L802.8 472.7L804.8 467L805.2 466L812.2 459L812.8 458.7L818.8 457.3L820.2 458.9L824.8 465.9L825.2 465.3L828.8 452.2L841.8 400.5L845.2 378.9L847.8 367.2L848.2 365.3L849.2 362.5L852.8 384.8L853.2 385L856.8 369.8L860.2 377.8L860.8 379.4L864.2 392.7L866.8 372.5L869.2 358L874.8 340.1L877.2 330.5L877.8 327.7L879.8 324.7L882.2 318.4L882.8 317.5L885.2 315.4L885.8 315.3L889.8 321.1L893.8 329L895.2 331.1L896.2 333.1L896.2 330.5L895.2 328.4L893.8 326.6L890.2 320.5L885.8 314.8L885.2 314.8L882.8 316.7L882.2 317.4L879.8 322.9L877.8 325.5L877.2 329L874.8 339.1L869.2 357.1L866.8 371.5L864.2 391.2L860.8 378.7L856.8 369.2L853.2 383.5L852.8 383.4L849.2 362.5L848.2 364.5L847.8 366.3L845.2 377.8L841.2 402L828.8 452.2L825.2 464.9L824.8 465.3L820.2 458.1L818.8 456.7L812.8 458.2L812.2 458.5L805.2 465.5L804.8 466.5L802.8 472.1L802.2 472.7L799.8 471.4Z" fill="#c9bdf7"/>
<path d="M799.8 472.6L802.2 473.8L802.8 473.2L804.8 467.4L805.2 466.4L812.2 459.4L812.8 459.1L818.8 457.8L820.2 459.5L824.8 466.3L825.2 465.7L837.8 416L841.8 401.1L845.2 379.7L847.8 368L849.2 362.5L852.8 385.8L853.2 386.2L856.8 370.3L860.2 378.3L860.8 379.9L864.2 393.8L866.8 373.3L869.2 358.6L874.8 341L877.8 329.5L879.8 326.2L882.2 319.2L882.8 318.2L885.2 315.9L885.8 315.8L889.8 322.2L893.8 330.9L895.2 333.2L896.2 335.2L896.2 333.1L895.2 331.1L893.8 329L889.8 321.1L885.8 315.3L885.2 315.4L882.8 317.5L882.2 318.4L879.8 324.7L877.8 327.7L877.2 330.5L874.8 340.1L869.2 358L866.8 372.5L864.2 392.7L860.8 379.4L860.2 377.8L856.8 369.8L853.2 385L852.8 384.8L849.2 362.5L848.2 365.3L847.8 367.2L845.2 378.9L841.8 400.5L828.8 452.2L825.2 465.3L824.8 465.9L820.2 458.9L818.8 457.3L812.8 458.7L812.2 459L805.2 466L804.8 467L802.8 472.7L802.2 473.3L799.8 472.1Z" fill="#a8d699"/>
<path d="M799.8 473.6L802.2 474.9L802.8 474.2L804.8 468.2L805.2 467.2L812.2 460.2L812.8 459.9L818.8 458.8L824.8 467.1L825.2 466.5L837.8 416L841.8 402.5L845.8 378.8L849.2 362.5L852.8 388.2L853.2 388.8L856.8 371.2L860.2 379.4L860.8 381.1L864.2 396.2L866.8 375L869.2 360L874.8 342.8L876.8 335.6L879.8 329.3L882.2 320.9L882.8 319.7L885.2 316.9L885.8 316.8L889.8 324.5L893.8 335L896.2 339.7L896.2 335.2L895.2 333.2L893.8 330.9L889.8 322.2L885.8 315.8L885.2 315.9L882.8 318.2L882.2 319.2L879.8 326.2L877.8 329.5L874.8 341L869.2 358.6L866.8 373.3L864.2 393.8L860.8 379.9L860.2 378.3L856.8 370.3L853.2 386.2L852.8 385.8L849.2 362.5L847.8 368L845.2 379.7L841.8 401.1L837.8 416L825.2 465.7L824.8 466.3L820.2 459.5L818.8 457.8L812.8 459.1L812.2 459.4L805.2 466.4L804.8 467.4L802.8 473.2L802.2 473.8L799.8 472.6Z" fill="#f0908c"/>
<path d="M895.8 315.9L901.8 335.4L904.8 353.7L905.2 369.1L908.2 381.5L910.2 387.3L914.8 398.7L915.2 399.6L915.8 399.6L922.2 388.6L922.8 388.7L928.8 401.3L930.2 398.9L933.2 390.2L933.8 389.8L938.2 392.9L938.2 390.8L933.8 387.3L933.2 387.4L928.8 398L922.8 386L922.2 385.9L915.8 396.8L915.2 396.6L908.2 379.4L905.2 368.4L904.8 351L901.8 332.5L895.8 311.9Z" fill="#e2b8ea"/>
<path d="M895.8 321.8L901.8 339.7L904.8 357.6L905.2 370.1L907.8 382.6L910.2 391.7L914.8 403.5L915.2 404L915.8 403.7L922.2 392.6L922.8 392.7L928.8 406.3L930.2 405.5L933.2 394.3L933.8 393.5L938.2 396L938.2 392.9L933.8 389.8L933.2 390.2L930.2 398.9L928.8 401.3L922.8 388.7L922.2 388.6L915.8 399.6L915.2 399.6L914.8 398.7L910.2 387.3L908.2 381.5L905.2 369.1L904.8 353.7L901.8 335.4L895.8 315.9Z" fill="#a8d699"/>
<path d="M895.8 326.6L901.8 343.2L904.8 360.9L905.2 370.9L907.8 384.9L910.2 395.2L914.8 407.5L915.2 407.5L915.8 407.1L922.2 395.8L922.8 395.9L928.8 410.3L930.2 410.9L933.2 397.7L933.8 396.5L938.2 398.6L938.2 396L933.8 393.5L933.2 394.3L930.2 405.5L928.8 406.3L922.8 392.7L922.2 392.6L915.8 403.7L915.2 404L914.8 403.5L910.2 391.7L907.8 382.6L905.2 370.1L904.8 357.6L901.8 339.7L895.8 321.8Z" fill="#c9bdf7"/>
<path d="M895.8 329.3L897.8 334.2L901.8 345.2L904.2 359L904.8 362.7L905.2 371.4L908.2 388.8L910.2 397.2L914.8 409.7L915.2 409.5L915.8 409L922.2 397.6L922.8 397.7L928.8 412.5L930.2 413.9L933.2 399.6L933.8 398.2L938.2 400L938.2 398.6L933.8 396.5L933.2 397.7L930.2 410.9L928.8 410.3L922.8 395.9L922.2 395.8L915.8 407.1L915.2 407.5L914.8 407.5L910.2 395.2L907.8 384.9L905.2 370.9L904.8 360.9L901.8 343.2L895.8 326.6Z" fill="#a88ce2"/>
<path d="M895.8 332.6L897.8 337.1L901.8 347.5L904.2 361.1L904.8 364.9L905.2 372L908.2 390.5L910.2 399.6L914.8 412.3L915.8 411.3L922.2 399.7L922.8 399.9L928.8 415.2L930.2 417.5L933.2 401.8L933.8 400.2L938.2 401.7L938.2 400L933.8 398.2L933.2 399.6L930.2 413.9L928.8 412.5L922.8 397.7L922.2 397.6L915.8 409L915.2 409.5L914.8 409.7L910.2 397.2L908.2 388.8L905.2 371.4L904.8 362.7L904.2 359L901.8 345.2L897.8 334.2L895.8 329.3Z" fill="#eaa3d6"/>
<path d="M895.8 333.9L897.8 338.3L901.8 348.5L904.2 361.9L904.8 365.8L905.2 372.2L908.2 391.3L910.2 400.6L914.8 413.4L915.8 412.2L922.2 400.6L922.8 400.8L928.8 416.3L930.2 419L933.2 402.8L933.8 401L938.2 402.4L938.2 401.7L933.8 400.2L933.2 401.8L930.2 417.5L928.8 415.2L922.8 399.9L922.2 399.7L915.8 411.3L914.8 412.3L910.2 399.6L908.2 390.5L905.2 372L904.8 364.9L904.2 361.1L901.8 347.5L897.8 337.1L895.8 332.6Z" fill="#f7cfae"/>
<path d="M895.8 338.7L897.8 342.6L901.8 352L904.2 365L907.8 390.8L909.8 402L910.2 404.1L914.8 417.4L922.2 403.9L922.8 404.1L930.2 424.4L933.2 406.2L933.8 404L938.2 404.9L938.2 402.4L933.8 401L933.2 402.8L930.2 419L928.8 416.3L922.8 400.8L922.2 400.6L915.8 412.2L914.8 413.4L910.2 400.6L908.2 391.3L905.2 372.2L904.8 365.8L904.2 361.9L901.8 348.5L897.8 338.3L895.8 333.9Z" fill="#f0908c"/>
<path d="M840.6 311L848.8 290.6L852.2 311Z" fill="#dcb4d6"/>
<path d="M880 311L882.5 305.6L886.2 304L889.4 306.2L891.2 311Z" fill="#e2b2c4"/>
<path d="M311.6 311L313 318L314.4 311Z" fill="#ee7444"/>
<path d="M740 379.5L747.5 355.5L751 372.5Z" fill="#f2a9b6"/>
<path d="M774.5 497L778 481L782 494.5L784.5 488L787 493L784 495.5L780 497Z" fill="#f6c9a8"/>
<path d="M47.8 309.8L48.8 305L52.2 298L52.8 297.5L57.2 298L57.8 298.4L61.2 303.8L65.2 306.8L65.8 306.8L68.8 305L70.2 309.5" fill="none" stroke="#ef8db4" stroke-width="1.2" stroke-linejoin="round"/>
<path d="M82.2 309.8L83.8 302.5L88.8 300L93.8 298.8L97.2 301.1L97.8 301.1L99.8 300.1L100.2 300.1L104.8 302.4L105.2 302.4L108.8 301.2L112.2 303.6L112.8 303.4L114.8 300.4L115.2 300.6L117.2 305.6L117.8 305.6L121.2 296.2L124.8 298.6L125.2 298.7L134.8 296.3L135.2 296.8L137.2 300.8L137.8 300.6L140.2 294.5L143.8 287.5L149.2 273.6L149.8 273.6L161.2 300L165.2 281.8L168.8 272.5L172.2 270.2L172.8 270.3L179.8 279.7L184.8 284.8L185.2 286.4L187.2 297.4L187.8 296.6L189.8 279.6L190.2 277.7L193.8 280L196.2 278.8L198.8 295L201.2 307.5L205.2 310L209.2 310.7" fill="none" stroke="#ef8db4" stroke-width="1.2" stroke-linejoin="round"/>
<path d="M211.8 309.9L214.8 303.1L215.2 302.3L218.8 300L223.2 291.2L227.2 299.5L227.8 299.8L231.2 297.5L236.2 292.5L239.8 298.3L242.8 302.2L243.2 303.6L244.8 309.9" fill="none" stroke="#ef8db4" stroke-width="1.2" stroke-linejoin="round"/>
<path d="M270.2 309.6L277.2 268.9L277.8 268.7L281.2 285L284.2 309" fill="none" stroke="#ef8db4" stroke-width="1.2" stroke-linejoin="round"/>
<path d="M306.8 304.3L308.8 277.5L311.8 308.4" fill="none" stroke="#ef8db4" stroke-width="1.2" stroke-linejoin="round"/>
<path d="M313.2 307.4L314.8 286.1L315.2 282L318.8 275L322.2 251.7L322.8 249.4L326.2 241.2L331.2 232L336.2 230.5L339.8 226.5L343.8 220.2L347.2 222.1L347.8 222.8L351.8 231.7L352.2 231.9L354.8 228.4L355.2 225.4L357.2 205.1L357.8 201.6L361.2 188.8L364.8 186.4L365.2 186.5L368.8 190L373.8 185L377.2 184.5L377.8 184.7L383.8 190L387.2 194.7L387.8 193.5L389.8 181.5L390.2 181.2L396.2 212.5L398.8 228.8L402.2 225.2L402.8 219.8L404.8 177.8L405.2 172.1L409.8 165.4L410.2 164L413.8 150L417.2 148.8L417.8 149.3L421.2 157.5L425.2 177.5L425.8 177.5L429.8 157.5L430.2 156.5L433.8 160L437.2 171.7L437.8 174.8L440.2 196.3L443.8 215L444.8 233L445.2 238.7L451.2 267.5L456.2 281.2L461.2 272.5L465.2 256.9L471.2 242.5L473.8 270L476.2 291.2L481.2 285L484.8 266.3L488.8 251.2L491.2 260L494.8 255.3L495.2 254L498.8 240L502.2 228.3L502.8 229.8L505.2 252.7L505.8 255.9L511.2 275L515.2 256.5L518.8 242.5L521.2 272.5L523.8 291.2L527.2 285.4L527.8 285.6L533.8 298.8L537.8 288L541.8 276.2L545.2 282.9L549.2 290L551.8 276.4L554.8 252.1L555.2 249.4L557.2 244.4L557.8 244.1L559.8 247.1L560.2 246.3L563.8 230L566.2 222.5L569.8 213.2L570.2 212.5L576.2 212.5L580.2 194.4L585.8 181.2L592.8 199.4L593.2 198.1L597.2 166.9L597.8 164.7L599.8 162.3L600.2 162.4L604.8 169.6L605.2 169.7L608.8 165L616.2 195L619.8 188L620.2 186.3L624.8 164.9L625.2 164.5L633.8 190L638.8 200L642.2 218.7L642.8 220.8L644.8 226.8L645.2 227.8L652.2 237.2L657.2 249.4L657.8 251.5L662.2 278.5L662.8 279L666.2 265L670.2 259.6L674.8 252.9L675.2 253L686.2 275L692.2 277.4L692.8 278.5L695.2 289L695.8 293.5L696.8 307.5" fill="none" stroke="#ef8db4" stroke-width="1.2" stroke-linejoin="round"/>
<path d="M33.2 309L47.2 309L47.8 307.8L48.8 303L52.2 296L52.8 295.5L57.2 296L57.8 296.4L61.2 301.8L65.2 304.8L65.8 304.8L68.8 302.8L70.8 302.4L71.2 301.2L73.8 309L81.8 309L82.2 307.8L83.8 299.8L85.8 296.8L86.2 296.5L89.2 297.9L93.8 296.8L97.2 299.1L97.8 299.1L99.8 298.1L100.2 298.1L104.8 300.4L105.2 300.4L108.8 299.2L112.2 301.6L112.8 301.4L114.8 298.4L115.2 298.6L117.2 303.6L117.8 303.6L121.2 294.2L124.8 296.6L125.2 296.7L134.8 294.3L135.2 294.8L137.2 298.8L137.8 298.6L140.2 292.5L143.8 285.5L149.2 271.6L149.8 271.6L161.2 298L162.8 290.5L164.8 277.2L165.8 272L166.2 270.7L168.8 269L169.2 269.7L169.8 269.8L172.2 268.2L172.8 268.3L179.8 277.7L184.8 282.8L187.2 287.3L187.8 286.5L189.8 276.7L190.2 275.7L193.8 278L196.2 276.8L198.8 293L201.2 305.5L204.8 307.8L211.2 309L214.8 301.1L215.2 300.3L218.8 298L223.2 289.2L227.2 297.5L227.8 297.8L231.2 295.5L236.2 290.5L239.8 296.3L242.8 300.2L243.2 301.6L244.8 307.9L245.2 309L246.2 309.8L249.2 309L251.8 309L253.8 309.2L257.8 310.6" fill="none" stroke="#e3cd78" stroke-width="1.0" stroke-linejoin="round"/>
<path d="M33.2 256.2L37.2 286.8L37.8 288.1L40.8 280L44.8 296.5L45.2 296.5L48.8 282.5L53.8 272.5L58.8 270L62.2 286.3L64.2 299.5L64.8 300.5L67.8 292L71.2 285L74.8 301.3L76.8 307.4" fill="none" stroke="#9cd0e6" stroke-width="1.0" stroke-linejoin="round"/>
<path d="M78.2 307.6L81.2 300L85.2 296.1L89.8 293.9L99.8 292.5L109.8 293.7L110.2 293.4L114.8 286.6L115.2 286.1L119.8 283.9L124.8 280.2L125.2 280.1L130.2 282.6L136.2 283.8L138.8 281.2L143.8 265L149.2 254.2L149.8 254.4L153.8 265L158.8 272.5L161.2 275L164.8 257.5L165.2 256.2L168.8 255L172.8 242.1L173.2 241.7L177.2 249.5L181.2 256.2L184.8 249.2L185.2 249.9L188.2 263.4L188.8 263.3L191.2 251.2L196.2 250L199.2 260L201.2 272.5L207.2 274.9L211.2 275L216.2 268L221.2 268L225.2 273.6L228.8 281.2L232.2 287.6L232.8 287.6L236.2 282.5L242.2 280.6L242.8 282.1L246.2 303.8L249.8 296.8L250.2 296.8L255.8 309.4" fill="none" stroke="#9cd0e6" stroke-width="1.0" stroke-linejoin="round"/>
<path d="M34.8 267.3L37.2 285.8L37.8 286.8L40.8 279.1L44.8 295.3L45.2 295.1L48.8 281.1L52.8 273.1L53.8 271.3L56.8 269.8L58.8 269.1L62.2 285L64.2 298.1L64.8 299.2L67.8 291.2L71.2 284.5L74.8 299.5L75.8 302.6L77.2 306.2L77.8 306.2L81.2 298L85.2 294.4L90.2 292.3L99.8 291L109.8 291.9L110.2 291.6L114.8 285.2L115.2 284.9L118.2 283.9L120.2 282.3L122.8 279.8L124.8 278.8L125.2 278.8L130.2 281.6L136.2 283L137.8 281.8L138.8 280.7L139.8 277.6L140.2 274.8" fill="none" stroke="#cf90e0" stroke-width="1.0" stroke-linejoin="round"/>
<path d="M34.8 266.9L37.2 284.8L37.8 285.6L40.8 278.2L44.8 294.2L45.2 293.7L48.8 279.7L52.8 271.6L53.8 270L56.8 268.7L58.8 268.2L60.8 276L62.2 283.7L64.2 296.7L64.8 297.9L67.8 290.3L71.2 284L75.2 299.3L77.2 303.6L77.8 303.5L81.2 296.1L83.8 293.7L85.2 292.6L90.2 290.8L99.8 289.5L106.2 290L109.8 290.1L110.2 289.8L111.2 288.6L114.8 283.9L115.2 283.6L118.2 283.2L119.8 281.7L122.8 278L124.8 277.3L125.2 277.4L126.2 278L130.2 280.7L136.2 282.3L137.8 281.4L138.8 280.1L139.8 277.1L140.2 273.3" fill="none" stroke="#f0b080" stroke-width="1.0" stroke-linejoin="round"/>
<path d="M33.2 233.8L33.8 258.5L36.8 276.5L37.2 278.5L40.8 272.7L41.2 274L44.2 286L44.8 287L49.2 269.5L52.8 262.5L56.8 261.2L60.2 263.6L60.8 265.4L62.8 278.8L64.2 287.8L64.8 289.8L67.8 285L71.8 280.4L72.2 280.3L75.8 287.9L76.2 287.8L83.8 281.5L84.2 281.3L92.2 281.8L99.2 280L106.8 279.7L111.2 278.2L114.2 275.4L114.8 275.1L118.2 278.6L118.8 277.7L122.8 266.2L126.8 270.3L130.2 275L133.8 276.2L137.8 278.8L139.8 274.3L140.2 263.5" fill="none" stroke="#a99af0" stroke-width="1.0" stroke-linejoin="round"/>
<path d="M33.8 253.5L36.8 271.5L37.2 273.5L40.8 267.7L41.2 269.2L44.2 283.2L44.8 284.3L45.2 282.4L48.8 262.6L49.2 260.7L52.8 252.5L56.8 250L60.2 253.5L60.8 255.6L64.2 281L64.8 283.3L67.8 272.5L71.8 267.4L72.2 267.5L75.8 285.6L76.2 285.9L79.8 282.4L83.8 277.8L84.2 277.5L88.8 278.1L91.8 280.3L92.2 280.3L95.8 270.4L96.2 269.9L102.8 267.8L103.2 268.1L106.8 272.6L110.8 274.9L114.8 270.7L118.2 273L118.8 272.2L122.8 262.5L123.2 262L126.2 265L129.8 270.8L130.2 271.3L136.2 272.5L138.8 270L139.8 265.7" fill="none" stroke="#d9452f" stroke-width="1.0" stroke-linejoin="round"/>
<path d="M33.8 237.7L35.2 248.6L37.2 257.6L37.8 258.1L40.8 250L44.8 281.7" fill="none" stroke="#55a035" stroke-width="1.0" stroke-linejoin="round"/>
<path d="M48.2 264.8L50.2 251.6L52.8 242.2L53.2 241L56.8 238L59.8 242.2L60.2 244.5L62.8 264.1L64.2 273.4L64.8 274L67.2 263.5L67.8 262.1L71.2 257L76.2 276.2L80.2 272.2L84.2 267.5L87.8 270.2L91.2 273.8L94.8 264.4L95.2 263.6L98.8 261.2L102.2 260.1L102.8 260.4L106.2 266.2L109.8 270.9L110.2 271L114.2 266.5L114.8 266.6L117.2 269.7L117.8 269.6L122.2 261.7L122.8 261.5" fill="none" stroke="#55a035" stroke-width="1.0" stroke-linejoin="round"/>
<path d="M139.8 274.3L142.8 263.8L143.8 261L146.2 256.3L149.2 247.7L149.8 247.9L152.2 257.3L153.8 261.5L158.8 270.5L159.8 271.9L160.2 272.2" fill="none" stroke="#a99af0" stroke-width="1.0" stroke-linejoin="round"/>
<path d="M139.8 271.8L142.8 260.8L143.8 258.3L146.2 253.8L149.2 243.4L149.8 243.6L152.2 254.7L153.8 259.2L158.8 269.2L159.8 270.8L160.2 271" fill="none" stroke="#f0b080" stroke-width="1.0" stroke-linejoin="round"/>
<path d="M139.8 269.4L142.8 257.8L143.8 255.7L146.2 251.3L149.2 239L149.8 239.3L152.8 254.2L156.2 262.6L159.8 269.8L160.2 269.8" fill="none" stroke="#cf90e0" stroke-width="1.0" stroke-linejoin="round"/>
<path d="M139.8 265.7L142.2 254.8L142.8 253.3L146.2 247.5L149.2 232.5L149.8 232.8L152.2 248.4L152.8 250.7L156.2 260L159.8 268.2L160.2 268" fill="none" stroke="#d9452f" stroke-width="1.0" stroke-linejoin="round"/>
<path d="M159.8 272.7L161.2 273.5L164.8 255.2L165.2 253.7L168.8 252.6L172.8 239.4L173.2 239.1L177.8 248.2L179.8 251.6L181.2 253.6L184.8 247.1L185.2 247.9L188.2 261.4L188.8 261.3L191.2 249.2L196.2 248.1L199.2 258.9L200.2 265.2" fill="none" stroke="#a99af0" stroke-width="1.0" stroke-linejoin="round"/>
<path d="M159.8 270.6L160.2 270.7L161.2 269.5L162.2 265.6L164.8 249L165.2 247.2L168.8 246.1L172.8 232.5L173.2 232.2L176.2 239.3L179.8 245.9L180.2 246.4L181.2 246.4L184.2 241.4L184.8 241.3L185.2 242.8L188.2 256.1L188.8 256L191.2 243.7L196.2 242.8L199.2 256.1L200.2 262.3" fill="none" stroke="#f0b080" stroke-width="1.0" stroke-linejoin="round"/>
<path d="M159.8 269.2L160.2 269.2L161.2 267L162.2 263.6L164.8 245.2L165.2 243.2L168.8 242L172.8 228.1L173.2 227.9L176.2 235.5L179.8 242.3L180.2 242.6L181.2 241.9L184.2 237.3L184.8 237.7L188.2 252.8L188.8 252.7L191.2 240.2L196.2 239.6L198.8 251.7L200.2 260.4" fill="none" stroke="#c08ac6" stroke-width="1.0" stroke-linejoin="round"/>
<path d="M159.8 268.2L160.2 268L162.2 262L162.8 259.1L164.8 242.1L165.2 239.9L168.8 238.8L172.8 224.6L173.2 224.4L176.2 232.5L179.8 239.5L180.2 239.7L184.2 234.1L184.8 234.8L188.2 250.2L188.8 250L191.2 237.5L196.2 237L198.8 250L200.2 259" fill="none" stroke="#8f6fe0" stroke-width="1.0" stroke-linejoin="round"/>
<path d="M199.8 260.3L201.2 269.5L207.2 271.4L211.2 274L212.2 272.2" fill="none" stroke="#a99af0" stroke-width="1.0" stroke-linejoin="round"/>
<path d="M199.8 258.9L201.2 268L207.2 269.7L211.2 273.5L212.2 271.4" fill="none" stroke="#f0b080" stroke-width="1.0" stroke-linejoin="round"/>
<path d="M199.8 256L201.2 265L207.2 266.2L207.8 266.7L211.2 272.5L212.2 270" fill="none" stroke="#d9452f" stroke-width="1.0" stroke-linejoin="round"/>
<path d="M211.8 273.5L216.2 266L220.2 266.1L221.2 266.4L224.8 271L228.8 279.4L232.2 285.6L232.8 285.6L236.2 280L242.2 278.6L242.8 280.1L246.2 303.1L249.8 295.8L250.2 295.8L253.8 302.7L255.8 307.6L256.2 308.5L258.2 310.5" fill="none" stroke="#a99af0" stroke-width="1.0" stroke-linejoin="round"/>
<path d="M211.8 272.9L216.2 264.4L219.8 264.4L221.2 265.1L224.8 269.6L228.8 277.9L232.2 284L232.8 284L236.2 278L242.2 276.9L242.8 278.6L246.2 302.6L249.8 295.1L250.2 295L253.8 301L255.8 306.2L257.8 309.5" fill="none" stroke="#55a035" stroke-width="1.0" stroke-linejoin="round"/>
<path d="M211.8 272.2L216.2 262.4L219.8 262.4L221.2 263.5L224.8 268L228.8 276L232.2 282L232.8 281.9L236.2 275.5L242.2 274.9L242.8 276.7L246.2 302L249.8 294.2L250.2 294L253.8 298.8L256.2 305.6L258.2 309.9" fill="none" stroke="#c08ac6" stroke-width="1.0" stroke-linejoin="round"/>
<path d="M211.8 271.2L216.2 260L219.8 260L220.2 260.3L224.8 265.9L228.8 273.8L232.2 279.6L232.8 279.5L236.2 272.5L242.2 272.5L242.8 274.4L246.2 301.2L249.8 293.1L250.2 292.8L253.8 296.2L258.2 309.5" fill="none" stroke="#8f6fe0" stroke-width="1.0" stroke-linejoin="round"/>
<path d="M268.2 310.6L269.8 309.9L270.2 308.4L272.8 294.7L277.2 265.6L277.8 265.3L281.2 284.2L284.2 304.9L284.8 306.7L288.8 309.4L293.8 308.2L297.2 307.7L302.2 308.4L305.2 308.2L306.2 307.4L308.8 276L311.8 304.9L312.2 307.1L312.8 306.9L313.2 303.6L314.8 284.5L315.2 280.9L318.8 274.1L322.2 251.3L322.8 249L326.2 240.7L331.2 230.6L336.2 228.7L340.2 224.3L343.8 218.3L347.2 220.4L347.8 221.2L351.8 230.4L352.2 230.8L352.8 230.2L354.8 227L355.2 224.1L357.2 203.9" fill="none" stroke="#a99af0" stroke-width="1.0" stroke-linejoin="round"/>
<path d="M268.8 310L269.8 309.2L270.2 307.7L271.8 300" fill="none" stroke="#e3cd78" stroke-width="1.0" stroke-linejoin="round"/>
<path d="M273.2 290.9L277.2 263.3L277.8 263L284.2 302.2L284.8 303.8L285.2 304.2L288.8 308.2L293.8 306.4L297.2 305.5L302.8 306.7L305.2 306.4L305.8 305.9L306.2 304.9L308.8 275L311.8 302.5L312.2 304.6L312.8 304.1L313.2 301L314.8 283.5L315.2 280.1L318.8 273.4L321.8 254.2" fill="none" stroke="#e3cd78" stroke-width="1.0" stroke-linejoin="round"/>
<path d="M324.2 245.1L326.2 240.3L331.2 229.6L336.2 227.6L340.2 223.3L343.8 217.1L347.2 219.3L347.8 220.1L351.8 229.5L352.2 230L352.8 229.5L354.8 226.1L355.2 223.2L357.2 203.1" fill="none" stroke="#e3cd78" stroke-width="1.0" stroke-linejoin="round"/>
<path d="M257.8 309.5L258.2 310.3" fill="none" stroke="#9cd0e6" stroke-width="1.0" stroke-linejoin="round"/>
<path d="M268.2 309.8L269.8 307.4L270.2 305.9L272.2 296.9L277.2 257.6L277.8 257.4L281.2 282.5L284.2 295.5L285.2 297.3L288.8 305.5L293.8 301.8L297.2 300L297.8 300L302.2 302.2L302.8 302.3L305.2 301.8L305.8 300.8L306.2 298.9L308.8 272.5L311.8 296.6L312.2 298.2L312.8 297.2L313.2 294.5L314.8 281L315.2 278.3L318.8 271.9L322.2 250.3L322.8 248.1L331.2 227.2L336.2 224.6L339.8 221.5L343.8 213.9L347.2 216.6L347.8 217.4L351.8 227.3L352.2 228.1L352.8 227.8L354.8 223.9L355.2 220.9L357.2 201.2" fill="none" stroke="#9cd0e6" stroke-width="1.0" stroke-linejoin="round"/>
<path d="M268.8 308.7L269.8 306.8L271.2 301" fill="none" stroke="#55a035" stroke-width="1.0" stroke-linejoin="round"/>
<path d="M273.2 289.3L277.2 255.8L277.8 255.6L281.2 282.1L284.2 293.3L285.2 295.1L288.8 304.6L293.8 300.3L297.2 298.2L297.8 298.2L302.2 300.9L302.8 300.9L305.2 300.3L305.8 299.2L306.2 296.9L308.8 271.7L311.8 294.7L312.2 296.1L312.8 295L313.2 292.4L314.8 280.2L315.2 277.7L318.8 271.4L321.2 256.2" fill="none" stroke="#55a035" stroke-width="1.0" stroke-linejoin="round"/>
<path d="M326.2 239.1L331.2 226.5L336.2 223.7L339.8 220.7L343.8 212.9L347.2 215.7L347.8 216.5L351.8 226.6L352.2 227.5L352.8 227.2L354.8 223.1L355.2 220.2L357.2 200.6" fill="none" stroke="#55a035" stroke-width="1.0" stroke-linejoin="round"/>
<path d="M257.8 308.5L258.2 309.7" fill="none" stroke="#c08ac6" stroke-width="1.0" stroke-linejoin="round"/>
<path d="M268.2 308.9L270.2 303.2L272.2 296.1L272.8 292.8L277.2 249.5L277.8 249.3L281.2 280.7L284.2 285.8L284.8 286.3L285.2 287.5L288.8 301.5L293.8 295.1L297.2 292.1L297.8 292.1L302.2 295.9L302.8 296.1L305.2 295.2L305.8 293.4L306.2 290.1L308.8 268.9L311.8 288.1L312.2 288.9L313.2 285.2L314.8 277.4L315.2 275.6L318.8 269.6L322.2 249.3L322.8 247.2L326.2 238L331.2 223.8L339.8 217.8L340.2 217.1L343.8 209.3L347.2 212.6L347.8 213.5L352.2 225.4L352.8 225.3L354.8 220.6L355.2 217.6L357.2 198.4" fill="none" stroke="#c08ac6" stroke-width="1.0" stroke-linejoin="round"/>
<path d="M268.2 308.6L272.2 295.8L272.8 292.4L277.2 246.3L277.8 246.2L281.2 280L284.8 282.3L285.2 283.7L288.8 300L293.8 292.5L297.2 289L297.8 289L302.2 293.5L302.8 293.6L305.2 292.6L305.8 290.6L308.8 267.5L311.8 284.8L312.2 285.3L315.2 274.6L318.8 268.8L322.8 246.8L326.2 237.5L331.2 222.5L336.2 218.8L339.8 216.4L340.2 215.7L343.8 207.5L347.2 211L347.8 211.9L352.2 224.3L352.8 224.4L354.8 219.4L355.2 216.4L357.2 197.4" fill="none" stroke="#cf90e0" stroke-width="1.0" stroke-linejoin="round"/>
<path d="M356.8 204.9L357.8 196L359.8 183L361.2 175.3L363.2 167.6L365.2 168.2L367.2 169.9L371.2 181L372.2 179.8" fill="none" stroke="#e3cd78" stroke-width="1.0" stroke-linejoin="round"/>
<path d="M356.8 204L357.8 195L359.8 181L361.2 172.8L363.2 164L365.2 164.9L367.2 166.4L367.8 167.6L371.2 179.8L372.2 178.5" fill="none" stroke="#9cd0e6" stroke-width="1.0" stroke-linejoin="round"/>
<path d="M356.8 203.3L357.8 194.3L359.8 179.6L361.2 171.2L363.2 161.6L365.2 162.6L367.2 164.1L367.8 165.3L371.2 179L372.2 177.7" fill="none" stroke="#a99af0" stroke-width="1.0" stroke-linejoin="round"/>
<path d="M356.8 203L357.8 193.9L359.8 178.9L363.2 160.3L365.2 161.5L367.2 163L367.8 164.2L371.2 178.6L372.2 177.3" fill="none" stroke="#55a035" stroke-width="1.0" stroke-linejoin="round"/>
<path d="M356.8 202.1L359.8 177L363.2 157L367.2 159.8L367.8 161.2L371.2 177.5L372.2 176.2" fill="none" stroke="#cf90e0" stroke-width="1.0" stroke-linejoin="round"/>
<path d="M371.8 186.2L373.8 184.1L377.2 183.4L377.8 183.5L382.2 187.5L383.8 189L386.2 192.8" fill="none" stroke="#e3cd78" stroke-width="1.0" stroke-linejoin="round"/>
<path d="M371.8 179.9L374.8 176.4L377.2 174.5L378.8 173.8L382.2 178L382.8 178.9L386.2 188.4" fill="none" stroke="#9cd0e6" stroke-width="1.0" stroke-linejoin="round"/>
<path d="M371.8 178.9L374.8 175.2L377.2 173.1L378.8 172.1L382.2 176.5L382.8 177.5L386.2 187.7" fill="none" stroke="#a99af0" stroke-width="1.0" stroke-linejoin="round"/>
<path d="M371.8 178.4L375.2 174.1L378.8 171.3L382.2 175.7L382.8 176.8L386.2 187.3" fill="none" stroke="#55a035" stroke-width="1.0" stroke-linejoin="round"/>
<path d="M371.8 176.8L375.2 172.2L378.8 168.8L382.2 173.4L382.8 174.6L386.2 186.2" fill="none" stroke="#cf90e0" stroke-width="1.0" stroke-linejoin="round"/>
<path d="M385.8 189.3L386.2 190.4L387.2 189.7L387.8 188.4L389.8 178.6L390.2 178.8L395.2 206.7L398.8 220.9L402.2 217.9L402.8 212.7L404.2 183.1" fill="none" stroke="#e88fac" stroke-width="1.0" stroke-linejoin="round"/>
<path d="M385.8 184.6L386.2 186.2L389.8 174.6L390.2 175.4L392.8 191.5L395.2 206L395.8 207.7L398.8 210L402.2 207.7L402.8 203L404.2 176" fill="none" stroke="#ee8fa8" stroke-width="1.0" stroke-linejoin="round"/>
<path d="M403.8 190.5L404.8 171.3L405.2 166.2L409.8 161.5L410.2 159.7L413.8 138L421.2 142.5L424.8 164.9L425.2 165.7L428.2 144.8" fill="none" stroke="#e98a9c" stroke-width="1.0" stroke-linejoin="round"/>
<path d="M403.8 185L404.8 167L405.2 162.3L409.8 158.9L410.2 156.8L413.8 130L417.2 134.2L417.8 134.4L421.2 132.5L424.8 158.2L425.2 157.8L428.2 131.4" fill="none" stroke="#ee8fa8" stroke-width="1.0" stroke-linejoin="round"/>
<path d="M427.8 164.3L429.8 154.5L430.2 153.6L433.8 157L437.2 169.4L437.8 172.6L440.2 194.9L443.8 213.7L444.8 230.4L445.2 235.8L446.2 240.7" fill="none" stroke="#e98a9c" stroke-width="1.0" stroke-linejoin="round"/>
<path d="M427.8 161.2L428.8 155.4L429.8 151.5L430.2 150.8L433.8 154L437.2 167.1L440.2 193.4L443.8 212.3L444.8 227.8L445.2 232.9L446.2 237.8" fill="none" stroke="#e88fac" stroke-width="1.0" stroke-linejoin="round"/>
<path d="M427.8 153.2L428.8 146.5L429.8 144L430.2 143.6L433.8 146.5L437.2 161.3L440.2 189.7L443.8 209L444.8 221.3L445.2 225.6L446.2 230.7" fill="none" stroke="#f0b080" stroke-width="1.0" stroke-linejoin="round"/>
<path d="M427.8 146.9L428.8 139.4L429.8 138.1L430.2 137.9L433.8 140.5L437.2 156.7L440.2 186.7L443.8 206.3L444.8 216.1L445.2 219.8L446.2 225" fill="none" stroke="#a99af0" stroke-width="1.0" stroke-linejoin="round"/>
<path d="M427.8 139L428.8 130.6L430.2 130.8L433.8 133L437.2 151L440.2 183L446.2 217.8" fill="none" stroke="#d9452f" stroke-width="1.0" stroke-linejoin="round"/>
<path d="M427.8 135.8L428.8 127L433.8 130L437.2 148.7L440.2 181.5L442.8 196.3L446.2 215" fill="none" stroke="#55a035" stroke-width="1.0" stroke-linejoin="round"/>
<path d="M445.8 232.5L451.2 260.8L456.2 274.3L457.2 273.8L457.8 273.4L461.2 268.4L465.2 251.6L471.2 236.5L473.8 261.8L476.2 282.2L481.2 277.1L485.2 256.1L487.8 245.3L488.8 243.1L491.2 250.2L494.8 244.9L498.8 233.2L502.2 220.2L502.8 221.6L505.2 244.8L505.8 248L507.8 256L511.2 264.9L515.2 247.4L518.8 236.9L521.2 265" fill="none" stroke="#c08ac6" stroke-width="1.0" stroke-linejoin="round"/>
<path d="M445.8 226.1L451.2 255.8L456.2 269.2L457.2 269.7L457.8 269.5L461.2 265.4L465.2 247.7L471.2 232.1L473.8 255.7L476.2 275.6L481.2 271.4L487.2 239.8L487.8 238.2L488.8 237.2L491.2 243.1L495.2 236.2L498.8 228.3L502.2 214.2L502.8 215.6L505.2 239.1L507.2 249.3L507.8 251L511.2 257.4L515.2 240.7L518.8 232.8L521.2 259.5" fill="none" stroke="#cf90e0" stroke-width="1.0" stroke-linejoin="round"/>
<path d="M445.8 224.4L451.2 254.4L456.2 267.8L457.2 268.5L457.8 268.5L461.2 264.5L465.2 246.7L471.2 230.9L473.8 254.1L476.2 273.9L481.2 269.8L487.2 237.9L487.8 236.3L488.8 235.5L491.2 241.2L495.2 234.2L498.8 226.9L502.2 212.6L502.8 214L505.2 237.5L507.2 248L507.8 249.6L511.2 255.4L514.8 240.4L515.2 238.9L518.8 231.6L521.2 258" fill="none" stroke="#55a035" stroke-width="1.0" stroke-linejoin="round"/>
<path d="M445.8 217.5L451.2 249.1L456.2 262.2L457.2 264L457.8 264.2L461.2 261.2L465.2 242.5L471.2 226.1L473.8 247.4L476.2 266.6L481.2 263.5L484.2 248.3L487.2 230L487.8 228.6L488.8 229L491.2 233.3L494.8 226.8L498.8 221.6L502.2 206.1L502.8 207.4L505.2 231.2L507.2 242.6L507.8 244.2L511.2 247.3L514.8 232.9L515.2 231.6L518.8 227.1L521.2 252" fill="none" stroke="#f0b080" stroke-width="1.0" stroke-linejoin="round"/>
<path d="M445.8 212.3L451.2 245L457.2 260.6L457.8 261.1L461.2 258.8L465.2 239.3L471.2 222.5L476.2 261.2L481.2 258.8L484.2 243.8L487.2 224.2L487.8 222.8L491.2 227.5L494.8 220.5L495.2 219.8L498.8 217.5L502.2 201.2L502.8 202.5L505.2 226.5L507.2 238.5L507.8 240.1L511.2 241.2L514.8 227.2L515.2 226.1L518.8 223.8L521.2 247.5" fill="none" stroke="#d9452f" stroke-width="1.0" stroke-linejoin="round"/>
<path d="M520.8 249.4L521.2 254.5L523.8 269.6L526.2 264L527.8 266.8L529.8 272.3L530.2 273.3L533.8 276.2L537.2 272.8L537.8 271.8L541.8 260.1L545.2 268.5L548.8 274.5L549.2 274.1L552.2 265.7L553.2 259.3" fill="none" stroke="#e88fac" stroke-width="1.0" stroke-linejoin="round"/>
<path d="M520.8 247.5L521.2 252.5L523.8 267.2L526.2 261.4L527.8 264.7L529.8 270.4L530.2 271.3L533.8 273.8L537.2 270.9L537.8 270L541.8 258.2L545.2 266.9L548.8 272.8L549.2 272.3L552.2 264.9L553.2 258.7" fill="none" stroke="#e3cd78" stroke-width="1.0" stroke-linejoin="round"/>
<path d="M520.8 245.6L521.2 250.5L523.8 264.9L526.2 258.9L529.8 268.4L530.2 269.3L533.8 271.2L537.2 269.1L537.8 268.2L541.8 256.4L545.2 265.3L548.8 271.2L549.2 270.6L552.2 264.1L553.2 258.1" fill="none" stroke="#cf90e0" stroke-width="1.0" stroke-linejoin="round"/>
<path d="M520.8 242.8L521.2 247.5L523.8 261.2L526.2 255L529.8 265.5L530.2 266.3L533.8 267.5L537.2 266.3L537.8 265.5L541.8 253.8L545.2 262.9L548.8 268.8L552.2 262.9L553.2 257.2" fill="none" stroke="#f0b080" stroke-width="1.0" stroke-linejoin="round"/>
<path d="M552.8 267.6L554.8 251.3L555.2 248.5L557.2 242.4L557.8 242L559.8 244.7L560.2 244L563.8 228.5L566.2 220.2L569.8 209.9L570.2 209.1L576.2 207.6L580.2 189.2L584.8 178.5L585.8 176.6L589.8 186.6L592.8 192.7L593.2 191.5L596.2 169.7" fill="none" stroke="#e98a9c" stroke-width="1.0" stroke-linejoin="round"/>
<path d="M552.8 265.9L555.2 247.3L557.2 239.9L557.8 239.2L559.8 241.5L560.2 240.8L563.8 226.5L566.2 217.2L569.8 205.5L570.2 204.5L576.2 201.1L580.2 182.2L584.8 171.6L585.2 170.8L585.8 170.4L590.2 180.8L592.8 183.9L593.2 182.8L593.8 180L596.2 163" fill="none" stroke="#c08ac6" stroke-width="1.0" stroke-linejoin="round"/>
<path d="M552.8 260.8L554.8 246.8L557.2 231.5L557.8 230.1L559.8 231.1L560.2 230.5L563.8 220L569.8 191.2L570.2 189.6L576.2 180L579.8 161.3L580.2 159.4L584.8 149.3L585.2 149.2L589.8 158.2L590.2 158.4L593.8 153.8L596.2 141.2" fill="none" stroke="#e88fac" stroke-width="1.0" stroke-linejoin="round"/>
<path d="M642.8 212.2L645.2 219L652.2 227.2L652.8 228.2L657.2 240L661.2 258.1L662.2 261.8L662.8 261.8L666.2 248.4L670.2 243.4L674.8 237.2L675.2 237.2L676.2 238.4L681.2 248.4L686.2 259.4L692.2 266.2L692.8 267.4L693.8 271.4L695.2 279.7L696.8 297.2L697.2 301.1" fill="none" stroke="#e98a9c" stroke-width="1.0" stroke-linejoin="round"/>
<path d="M642.8 209.1L644.8 214.9L645.2 215.9L652.2 223.6L652.8 224.6L657.2 236.6L661.2 252.9L662.2 255.8L662.8 255.6L666.2 242.5L670.2 237.6L674.8 231.6L675.2 231.5L676.2 232.5L681.2 242.5L686.2 253.8L692.2 262.1L692.8 263.5L693.8 267.3L695.2 276.4L696.8 293.6L697.2 297.5" fill="none" stroke="#c8a890" stroke-width="1.0" stroke-linejoin="round"/>
<path d="M642.8 207.4L644.8 213.1L645.2 214.1L652.2 221.6L652.8 222.6L657.2 234.7L661.2 250.1L662.2 252.5L662.8 252.1L666.2 239.2L670.2 234.3L674.8 228.5L675.2 228.3L676.2 229.2L681.2 239.2L686.2 250.6L692.2 259.9L692.8 261.2L693.8 265.1L695.2 274.5L697.2 295.5" fill="none" stroke="#e07fc0" stroke-width="1.0" stroke-linejoin="round"/>
<path d="M642.8 186.5L644.8 191.8L645.2 192.7L652.2 197.3L652.8 198.2L657.2 211.8L657.8 212.7L661.2 215L666.2 198.8L676.2 188.8L681.2 198.8L686.2 212.5L693.8 237.5L697.2 271.3" fill="none" stroke="#e88fac" stroke-width="1.0" stroke-linejoin="round"/>
<path d="M696.8 268.1L697.2 272.9L697.8 275.2L702.2 274.1L702.8 273.7L706.2 269.2L708.8 260.8L712.2 277.6L712.8 282.9L714.2 307" fill="none" stroke="#e88fac" stroke-width="1.0" stroke-linejoin="round"/>
<path d="M696.8 266.5L697.2 271.3L697.8 273.7L702.2 272.6L702.8 272.2L706.2 267.5L708.8 258.8L712.2 276.2L712.8 281.7L713.8 298.4" fill="none" stroke="#e3cd78" stroke-width="1.0" stroke-linejoin="round"/>
<path d="M840.2 310.1L848.8 278L852.8 290.4L857.8 297.9L864.2 309.6" fill="none" stroke="#ee8fa8" stroke-width="1.0" stroke-linejoin="round"/>
<path d="M864.2 309.7L864.8 310.6L865.2 310.1L867.8 301.5L868.2 300.6L871.8 299.5L873.8 296.5" fill="none" stroke="#e88fac" stroke-width="1.0" stroke-linejoin="round"/>
<path d="M866.8 304.6L867.8 300.9L868.2 299.9L871.8 298.8L873.8 295.6" fill="none" stroke="#e3cd78" stroke-width="1.0" stroke-linejoin="round"/>
<path d="M873.2 299.6L877.8 294L881.8 291.3L885.8 295L890.2 302L895.2 310.6" fill="none" stroke="#e07fc0" stroke-width="1.0" stroke-linejoin="round"/>
<path d="M873.2 297.2L877.8 290.5L878.2 289.9L881.8 287.3L885.8 291.7L890.2 300.2L894.2 308.4" fill="none" stroke="#e88fac" stroke-width="1.0" stroke-linejoin="round"/>
<path d="M873.2 296.4L877.8 289.1L878.2 288.6L881.8 285.8L885.2 289.7L885.8 290.5L890.2 299.5L892.8 304.9" fill="none" stroke="#e3cd78" stroke-width="1.0" stroke-linejoin="round"/>
<path d="M595.8 173.4L597.2 162.3L597.8 159.8L599.8 155.7L600.2 155.7L602.8 160.9L604.8 164.1L605.2 164.2L608.8 160.8L616.2 186.7L619.8 181.1L620.2 179.7L624.2 161.1L624.8 159.2L625.2 158.9L627.8 165.8L633.8 184.9L637.2 192.1L638.8 195.6L642.2 213.6L643.2 217.1" fill="none" stroke="#e98a9c" stroke-width="1.0" stroke-linejoin="round"/>
<path d="M595.8 166.4L597.8 153.3L599.8 146.8L600.2 146.7L602.8 153.7L603.2 154.7L604.8 156.8L605.2 157L608.8 155.2L616.2 175.6L619.8 171.9L620.2 170.9L624.2 152.8L624.8 151.5L625.2 151.5L627.8 157.6L630.8 168.8L633.2 176.8L637.2 185.6L638.8 189.8L641.2 202.5L642.2 206.9L643.2 210.2" fill="none" stroke="#c08ac6" stroke-width="1.0" stroke-linejoin="round"/>
<path d="M595.8 143.8L596.2 142.6L596.8 142.6L597.8 141.3L598.2 141.4L598.8 140.5L599.8 135.8L600.2 135.5L602.8 144.7L603.2 145.9L604.8 147.8L605.2 148.1L608.8 148.4L616.2 162.4L619.8 161.1L620.2 160.6L624.2 143.2L624.8 142.6L625.2 142.9L625.8 143.9L626.2 144.2L627.8 142.1L628.2 142.1L631.2 148L633.2 155.1L637.2 164.4L641.2 182.5L643.2 187.8" fill="none" stroke="#e88fac" stroke-width="1.0" stroke-linejoin="round"/>
<path d="M596.2 141.2L597.2 135.7L599.8 118L600.2 117.5L602.8 130L603.2 131.5L609.2 137.5L615.2 138.9L620.2 142.2L624.2 125.8L627.8 130.9L628.2 132.7L630.8 146.2" fill="none" stroke="#efd57a" stroke-width="1.0" stroke-linejoin="round"/>
<path d="M33.8 313.6L35.2 321.8L37.2 334.6L37.8 334.4L39.2 323.9L40.8 316.2L44.2 324.6L44.8 324L47.2 312.2" fill="none" stroke="#e890b6" stroke-width="1.0" stroke-linejoin="round"/>
<path d="M33.8 314.3L35.2 324.5L37.2 340.5L37.8 340.3L39.2 327.2L40.8 317.5L44.2 328L44.8 327.3L46.8 315.4" fill="none" stroke="#e3cd78" stroke-width="1.0" stroke-linejoin="round"/>
<path d="M71.2 314L72.2 319.9L72.8 321.6L76.2 324.7L79.8 322.6L80.2 321.3L82.2 312.1" fill="none" stroke="#e890b6" stroke-width="1.0" stroke-linejoin="round"/>
<path d="M71.2 314.3L72.2 320.9L72.8 322.8L76.2 326.2L79.8 323.9L80.2 322.5L81.8 314.8" fill="none" stroke="#e3cd78" stroke-width="1.0" stroke-linejoin="round"/>
<path d="M245.2 312.8L246.2 320.2L249.8 317.1L250.2 317.2L253.8 322.5L254.8 321.6L255.2 321.6L259.8 326.7L263.8 336L266.8 332.9L267.2 331.7L270.2 320.7L273.2 312.4" fill="none" stroke="#e890b6" stroke-width="1.0" stroke-linejoin="round"/>
<path d="M285.2 311.6L289.8 323L290.2 323.1L293.8 316.9L297.2 327.4L297.8 327.9L304.8 321.6L305.2 319.3L305.8 315.1" fill="none" stroke="#e890b6" stroke-width="1.0" stroke-linejoin="round"/>
<path d="M311.8 312.7L312.8 316L313.2 315.9L314.2 312" fill="none" stroke="#e890b6" stroke-width="1.0" stroke-linejoin="round"/>
<path d="M245.8 316.8L246.2 320.7L249.8 317.4L250.2 317.6L253.8 323.1L254.8 322.2L255.2 322.2L259.8 327.6L263.8 337.4L266.8 334.1L267.2 332.8L269.8 322.9L271.8 316.8" fill="none" stroke="#e88fac" stroke-width="1.0" stroke-linejoin="round"/>
<path d="M287.2 317L289.8 323.6L290.2 323.8L293.8 317.2L297.2 328.3L297.8 328.8L304.8 322.2L305.2 319.7" fill="none" stroke="#e88fac" stroke-width="1.0" stroke-linejoin="round"/>
<path d="M245.8 317.1L246.2 321.2L249.8 317.8L250.2 317.9L253.8 323.8L254.8 322.8L255.2 322.8L259.8 328.4L263.8 338.8L266.8 335.3L267.2 334L269.8 323.5L271.8 317.1" fill="none" stroke="#a99af0" stroke-width="1.0" stroke-linejoin="round"/>
<path d="M287.2 317.3L289.8 324.3L290.2 324.5L293.8 317.5L297.2 329.2L297.8 329.8L304.8 322.8L305.2 320.2" fill="none" stroke="#a99af0" stroke-width="1.0" stroke-linejoin="round"/>
<path d="M714.8 313.4L716.2 327.5L719.8 332.2L720.2 332.4L724.8 330.1L725.2 330.6L729.8 341.9L735.2 365.7L739.8 378.8L740.2 379.2L743.8 375L747.2 376.2L747.8 376L751.2 372.5L755.2 377.7L755.8 377.5L759.8 369.3L760.2 368.6L764.8 366.4L765.2 365.7L774.8 344.3L775.2 344L780.2 349.1L785.2 356.6L791.2 365L794.8 359.2L798.8 351.2L802.2 350.1L802.8 349.6L809.8 338.4L810.2 338.5L813.8 345L817.2 353.2L817.8 353.8L822.2 353.8L822.8 353.2L826.2 346.2L831.2 335L835.2 323.1L839.8 311.6" fill="none" stroke="#ef8db4" stroke-width="1.2" stroke-linejoin="round"/>
<path d="M895.8 311.9L901.8 332.5L905.2 354L907.8 368.5L908.2 370.6L914.2 383.8L918.2 378.5L922.8 374L923.2 374.2L926.8 380L930.2 373L930.8 372.4L935.2 371.3L935.8 371.4L938.2 372.4" fill="none" stroke="#ef8db4" stroke-width="1.2" stroke-linejoin="round"/>
<path d="M710.2 311.3L714.2 316.8L714.8 319.8L716.2 336L719.8 345.5L720.2 346.4L720.8 346.8L721.2 346.5L724.8 340L725.2 339.8L729.8 344.9L730.2 346L731.8 350.7" fill="none" stroke="#e3cd78" stroke-width="1.0" stroke-linejoin="round"/>
<path d="M823.8 352L826.2 354L829.2 355.8L829.8 354.7L831.2 347L835.2 323.8" fill="none" stroke="#e3cd78" stroke-width="1.0" stroke-linejoin="round"/>
<path d="M857.8 323.2L862.2 332L862.8 331L865.8 312.5" fill="none" stroke="#e3cd78" stroke-width="1.0" stroke-linejoin="round"/>
<path d="M927.8 378.7L930.2 375.9L930.8 375.8L936.2 379.3L938.2 378.4" fill="none" stroke="#e3cd78" stroke-width="1.0" stroke-linejoin="round"/>
<path d="M697.2 313L698.8 325L701.2 337.5L706.2 333.8L708.8 317.5L712.2 338.5L712.8 343.5L714.8 371.5L715.8 408.8L719.8 414.6L720.2 415.1L726.2 417.5L729.8 426.8L730.2 426.9L732.2 421.9L732.8 423.4L735.2 443.8L738.8 461.2L742.2 464.8L742.8 464.1L747.2 447.2L747.8 448.4L749.8 465.4L750.2 467.9L753.8 473.8L758.8 467.5L764.8 465.1L769.8 463.8L770.2 463L774.8 449.5L775.2 448.6L786.2 440L789.8 445.8L790.2 445.6L797.2 426.9L797.8 426.1L803.8 423.8L809.8 414.1L810.2 413.7L819.8 410.1L827.2 408.8L827.8 407L831.2 382.5L834.8 366.2L835.2 364.4L839.8 353.1L843.8 337.5L846.2 325L847.2 312.5L848.2 312.5L851.2 325L853.8 316.2L857.2 322.4" fill="none" stroke="#9cd0e6" stroke-width="1.0" stroke-linejoin="round"/>
<path d="M905.2 368.4L908.2 379.4L915.2 396.6L915.8 396.8L922.2 385.9L922.8 386L928.8 398L933.2 387.4L933.8 387.3L938.2 390.8" fill="none" stroke="#9cd0e6" stroke-width="1.0" stroke-linejoin="round"/>
<path d="M751.2 470L753.8 475L757.2 484.3L757.8 485.1L762.2 487.4L767.2 493.4L767.8 493.4L770.2 489.5L773.8 482.5L776.8 475.6L777.2 474.8L779.8 472.7L780.2 473.2L783.8 482.5L786.2 477.5L789.8 484.5L790.2 484.3L793.8 475L797.2 466.8L797.8 466.4L802.2 468.6L802.8 468.1L805.2 462.2L812.8 454.9L819.8 452.6L820.2 453L824.8 462L825.2 461.8L828.8 452.2L838.8 412.5L841.2 398L844.8 373.7L845.2 371L847.8 360.5L848.2 359.5L852.8 374.5L856.8 365.4L864.2 381.9L864.8 380.5L866.8 364.9L869.8 349.3L874.8 332.2L877.2 319.3" fill="none" stroke="#c890e2" stroke-width="1.0" stroke-linejoin="round"/>
<path d="M700.2 332.8L701.2 338L706.2 334.2L708.8 317.9L710.2 326.8" fill="none" stroke="#55a035" stroke-width="1.0" stroke-linejoin="round"/>
<path d="M715.2 387L715.8 409.9L716.2 411.5L720.2 417.2L724.8 418.7L726.2 419.6L728.8 426.2L729.8 428L730.2 427.8L732.2 422.2L732.8 423.7L735.2 444.7L738.8 463L739.8 464.6L740.2 465.1L742.2 465.9L742.8 465L747.2 448.1L747.8 449.3L749.8 466.3L750.2 468.9L752.2 473.8" fill="none" stroke="#55a035" stroke-width="1.0" stroke-linejoin="round"/>
<path d="M699.8 330.5L701.2 338.9L706.2 334.9L708.8 318.6L711.8 336" fill="none" stroke="#c8a890" stroke-width="1.0" stroke-linejoin="round"/>
<path d="M715.2 388.1L715.8 411.5L716.2 414.6L720.2 420.2L724.8 421.5L726.2 422.8L728.8 429.3L729.8 429.8L730.2 429.1L732.2 422.8L732.8 424.3L735.2 446.1L738.8 465.6L739.8 468.2L740.2 468.7L742.2 467.5L742.8 466.4L747.2 449.4L747.8 450.6L749.8 467.6L750.2 470.4L752.2 476.5" fill="none" stroke="#c8a890" stroke-width="1.0" stroke-linejoin="round"/>
<path d="M699.2 328.3L701.2 341.6L706.2 337.1L708.8 320.9L712.2 339.8L713.8 358.1" fill="none" stroke="#c08ac6" stroke-width="1.0" stroke-linejoin="round"/>
<path d="M715.2 391.9L715.8 417.1L716.2 424.7L720.2 430.5L724.8 430.7L725.2 431.3L728.8 439.5L732.2 424.6L732.8 426.1L735.2 450.9L739.8 480.1L740.2 480.7L743.8 466.8L747.2 453.9L747.8 455.1L750.2 475.5L752.2 485.5" fill="none" stroke="#c08ac6" stroke-width="1.0" stroke-linejoin="round"/>
<path d="M700.8 338.6L701.2 342L706.2 337.5L708.8 321.2L709.8 326.6" fill="none" stroke="#a99af0" stroke-width="1.0" stroke-linejoin="round"/>
<path d="M715.2 392.5L715.8 418L716.2 426.4L720.2 432.2L724.8 432.2L725.2 432.9L728.8 441.2L732.2 424.9L732.8 426.4L735.2 451.8L739.8 482.1L740.2 482.7L743.8 467.5L747.2 454.7L747.8 455.9L750.2 476.3L752.2 487" fill="none" stroke="#a99af0" stroke-width="1.0" stroke-linejoin="round"/>
<path d="M751.8 477L753.8 484L757.2 491.8L757.8 492.3L761.2 492.2L762.8 493.6L765.2 496.7L767.2 498.1L767.8 498L768.8 497.2L771.2 491.4L772.2 490.3" fill="none" stroke="#55a035" stroke-width="1.0" stroke-linejoin="round"/>
<path d="M751.8 479L753.8 487L757.2 494.2L757.8 494.7L761.2 494L765.2 498.6L767.2 499.6L767.8 499.6L768.8 499L771.2 492.8L772.2 491.9" fill="none" stroke="#a99af0" stroke-width="1.0" stroke-linejoin="round"/>
<path d="M751.8 484.3L753.8 495L757.2 500.8L757.8 501.1L761.2 498.8L764.8 503.4L765.2 503.8L768.8 503.8L771.2 496.2L772.2 496.2" fill="none" stroke="#c08ac6" stroke-width="1.0" stroke-linejoin="round"/>
<path d="M771.8 489.4L774.8 485L776.8 480.5L777.2 479.5L777.8 479.2L779.8 478.9L780.2 479.3L783.8 485.9L786.2 479.8L789.8 486.8L790.2 486.6L793.8 477.2L797.2 468.7L797.8 468.2L800.2 469.5" fill="none" stroke="#a99af0" stroke-width="1.0" stroke-linejoin="round"/>
<path d="M771.8 492.4L774.8 489.8L777.2 484.3L777.8 484L780.2 485.5L783.8 489.2L786.2 482L789.8 489L790.2 488.8L797.2 470.6L797.8 470.1L800.2 471.4" fill="none" stroke="#55a035" stroke-width="1.0" stroke-linejoin="round"/>
<path d="M771.8 493.8L774.8 492.2L775.2 491.5L777.2 486.7L777.8 486.4L780.2 488.6L783.8 490.9L786.2 483.1L789.8 490.1L790.2 490L797.2 471.6L797.8 471.1L800.2 472.3" fill="none" stroke="#f0b080" stroke-width="1.0" stroke-linejoin="round"/>
<path d="M771.8 496.2L774.8 496.2L775.2 495.6L777.2 490.6L777.8 490.4L779.8 493.4L780.2 493.8L783.8 493.8L786.2 485L789.8 492L790.2 491.8L797.2 473.2L797.8 472.6L800.2 473.9" fill="none" stroke="#d9452f" stroke-width="1.0" stroke-linejoin="round"/>
<path d="M799.8 468.1L802.2 469.4L802.8 468.9L805.2 462.9L812.8 455.5L818.8 453.6L819.8 453.5L820.2 453.9L824.8 462.6L825.2 462.4L826.8 458.1" fill="none" stroke="#a99af0" stroke-width="1.0" stroke-linejoin="round"/>
<path d="M840.2 404.3L841.2 398.7L845.2 372.2L847.8 361.6L848.2 360.4L848.8 361.6" fill="none" stroke="#a99af0" stroke-width="1.0" stroke-linejoin="round"/>
<path d="M850.2 366.6L852.8 376.2L853.2 375.4L856.8 366.1L860.8 375.1L864.2 383.7L864.8 381.9L866.8 366.1L869.2 352.8L870.2 348.3L874.8 333.5L877.2 321.1L877.8 313.7L879.8 313.2L882.8 312L885.8 311.7L889.8 312.6L895.2 314.2L895.8 315.1L896.2 316.7" fill="none" stroke="#a99af0" stroke-width="1.0" stroke-linejoin="round"/>
<path d="M799.8 468.8L802.2 470L802.8 469.5L804.8 464.3L805.2 463.4L812.8 456L818.8 454.2L819.8 454.2L820.2 454.7L824.8 463.1L825.2 462.9L826.2 459.9" fill="none" stroke="#55a035" stroke-width="1.0" stroke-linejoin="round"/>
<path d="M840.2 404.7L841.8 396.3L845.2 373.3L847.8 362.5L848.2 361.2L848.8 362" fill="none" stroke="#55a035" stroke-width="1.0" stroke-linejoin="round"/>
<path d="M850.2 367L852.8 377.5L853.2 376.9L856.8 366.7L860.8 375.7L864.2 385.1L864.8 383.1L866.8 367.1L869.2 353.6L870.2 349.3L874.8 334.6L877.2 322.6L877.8 315.9L879.8 315L882.8 312.9L885.8 312.3L889.8 314L893.8 316.3L895.2 316.9L895.8 317.8L896.2 319.3" fill="none" stroke="#55a035" stroke-width="1.0" stroke-linejoin="round"/>
<path d="M799.8 471.4L802.2 472.7L802.8 472.1L804.8 466.5L805.2 465.5L812.2 458.5L812.8 458.2L818.8 456.7L820.2 458.1L824.8 465.3L825.2 464.9L827.8 455.9" fill="none" stroke="#d9452f" stroke-width="1.0" stroke-linejoin="round"/>
<path d="M839.2 410.4L841.8 399.7L845.2 377.8L847.8 366.3L848.2 364.5L848.8 363.6" fill="none" stroke="#d9452f" stroke-width="1.0" stroke-linejoin="round"/>
<path d="M849.8 365.6L852.8 383.4L853.2 383.5L856.8 369.2L860.8 378.7L864.2 391.2L866.8 371.5L869.2 357.1L874.8 339.1L877.2 329L877.8 325.5L879.8 322.9L882.2 317.4L882.8 316.7L885.2 314.8L885.8 314.8L890.2 320.5L893.8 326.6L895.2 328.4L896.2 330.5" fill="none" stroke="#d9452f" stroke-width="1.0" stroke-linejoin="round"/>
<path d="M799.8 472.1L802.2 473.3L802.8 472.7L804.8 467L805.2 466L812.2 459L812.8 458.7L818.8 457.3L820.2 458.9L824.8 465.9L825.2 465.3L826.2 461.6" fill="none" stroke="#a99af0" stroke-width="1.0" stroke-linejoin="round"/>
<path d="M840.2 406.6L841.8 400.5L845.8 376.3L847.8 367.2L848.8 363.9" fill="none" stroke="#a99af0" stroke-width="1.0" stroke-linejoin="round"/>
<path d="M850.2 368.9L852.8 384.8L853.2 385L856.8 369.8L860.2 377.8L860.8 379.4L864.2 392.7L866.8 372.5L869.2 358L874.8 340.1L877.2 330.5L877.8 327.7L879.8 324.7L882.2 318.4L882.8 317.5L885.2 315.4L885.8 315.3L889.8 321.1L893.8 329L895.2 331.1L896.2 333.1" fill="none" stroke="#a99af0" stroke-width="1.0" stroke-linejoin="round"/>
<path d="M799.8 472.6L802.2 473.8L802.8 473.2L804.8 467.4L805.2 466.4L812.2 459.4L812.8 459.1L818.8 457.8L820.2 459.5L824.8 466.3L825.2 465.7L825.8 463.8" fill="none" stroke="#55a035" stroke-width="1.0" stroke-linejoin="round"/>
<path d="M840.8 405L841.8 401.1L845.2 379.7L848.2 365.9" fill="none" stroke="#55a035" stroke-width="1.0" stroke-linejoin="round"/>
<path d="M850.8 372.5L852.8 385.8L853.2 386.2L856.8 370.3L860.2 378.3L860.8 379.9L864.2 393.8L866.8 373.3L869.2 358.6L874.8 341L877.8 329.5L879.8 326.2L882.2 319.2L882.8 318.2L885.2 315.9L885.8 315.8L889.8 322.2L893.8 330.9L895.2 333.2L896.2 335.2" fill="none" stroke="#55a035" stroke-width="1.0" stroke-linejoin="round"/>
<path d="M799.8 473.6L802.2 474.9L802.8 474.2L804.8 468.2L805.2 467.2L812.2 460.2L812.8 459.9L818.8 458.8L824.8 467.1L825.2 466.5L827.2 458.3" fill="none" stroke="#d9452f" stroke-width="1.0" stroke-linejoin="round"/>
<path d="M839.8 409.2L841.8 402.5L845.2 381.5L848.8 364.8" fill="none" stroke="#d9452f" stroke-width="1.0" stroke-linejoin="round"/>
<path d="M850.2 369.8L852.8 388.2L853.2 388.8L856.8 371.2L860.2 379.4L860.8 381.1L864.2 396.2L866.8 375L869.2 360L874.8 342.8L876.8 335.6L879.8 329.3L882.2 320.9L882.8 319.7L885.2 316.9L885.8 316.8L889.8 324.5L893.8 335L896.2 339.7" fill="none" stroke="#d9452f" stroke-width="1.0" stroke-linejoin="round"/>
<path d="M895.8 315.9L901.8 335.4L904.8 353.7L905.2 369.1L908.2 381.5L910.2 387.3L914.8 398.7L915.2 399.6L915.8 399.6L922.2 388.6L922.8 388.7L928.8 401.3L930.2 398.9L933.2 390.2L933.8 389.8L938.2 392.9" fill="none" stroke="#cf90e0" stroke-width="1.0" stroke-linejoin="round"/>
<path d="M895.8 321.8L901.8 339.7L904.8 357.6L905.2 370.1L907.8 382.6L910.2 391.7L914.8 403.5L915.2 404L915.8 403.7L922.2 392.6L922.8 392.7L928.8 406.3L930.2 405.5L933.2 394.3L933.8 393.5L938.2 396" fill="none" stroke="#55a035" stroke-width="1.0" stroke-linejoin="round"/>
<path d="M895.8 326.6L901.8 343.2L904.8 360.9L905.2 370.9L907.8 384.9L910.2 395.2L914.8 407.5L915.2 407.5L915.8 407.1L922.2 395.8L922.8 395.9L928.8 410.3L930.2 410.9L933.2 397.7L933.8 396.5L938.2 398.6" fill="none" stroke="#a99af0" stroke-width="1.0" stroke-linejoin="round"/>
<path d="M895.8 329.3L897.8 334.2L901.8 345.2L904.2 359L904.8 362.7L905.2 371.4L908.2 388.8L910.2 397.2L914.8 409.7L915.2 409.5L915.8 409L922.2 397.6L922.8 397.7L928.8 412.5L930.2 413.9L933.2 399.6L933.8 398.2L938.2 400" fill="none" stroke="#8f6fe0" stroke-width="1.0" stroke-linejoin="round"/>
<path d="M895.8 332.6L897.8 337.1L901.8 347.5L904.2 361.1L904.8 364.9L905.2 372L908.2 390.5L910.2 399.6L914.8 412.3L915.8 411.3L922.2 399.7L922.8 399.9L928.8 415.2L930.2 417.5L933.2 401.8L933.8 400.2L938.2 401.7" fill="none" stroke="#e07fc0" stroke-width="1.0" stroke-linejoin="round"/>
<path d="M895.8 333.9L897.8 338.3L901.8 348.5L904.2 361.9L904.8 365.8" fill="none" stroke="#f0b080" stroke-width="1.0" stroke-linejoin="round"/>
<path d="M905.8 375.6L907.8 388.4L909.8 398.6L910.2 400.6L914.8 413.4L915.8 412.2L922.2 400.6L922.8 400.8L928.8 416.3L930.2 419L933.2 402.8L933.8 401L938.2 402.4" fill="none" stroke="#f0b080" stroke-width="1.0" stroke-linejoin="round"/>
<path d="M895.8 338.7L897.8 342.6L901.8 352L904.2 365L907.8 390.8L909.8 402L910.2 404.1L914.8 417.4L922.2 403.9L922.8 404.1L930.2 424.4L933.2 406.2L933.8 404L938.2 404.9" fill="none" stroke="#d9452f" stroke-width="1.0" stroke-linejoin="round"/>
<path d="M774.5 497L778 481L782 494.5L784.5 488L787 493" fill="none" stroke="#ee8a52" stroke-width="1.3" stroke-linejoin="round"/>
</g>
<line x1="33" x2="786" y1="311.1" y2="311.1" stroke="#8fa6e8" stroke-width="1.2"/>
<g opacity="0.21"><text x="364" y="320" font-size="37" fill="#8486a8" stroke="#8486a8" stroke-width="1.1" textLength="240" lengthAdjust="spacingAndGlyphs">CryptoQuant</text></g>
<line x1="24" x2="953" y1="525" y2="525" stroke="#dcdce0" stroke-width="1"/>
<line x1="952.8" x2="952.8" y1="96" y2="525" stroke="#d6d6e4" stroke-width="1"/>
<line x1="106.5" x2="106.5" y1="525" y2="530.5" stroke="#dcdce0" stroke-width="1"/>
<text x="106.50" y="545.20" font-size="10.8" fill="#5c5c66" font-weight="normal" text-anchor="middle" >2025 Jul</text>
<line x1="227.5" x2="227.5" y1="525" y2="530.5" stroke="#dcdce0" stroke-width="1"/>
<text x="227.50" y="545.20" font-size="10.8" fill="#5c5c66" font-weight="normal" text-anchor="middle" >2025 Aug</text>
<line x1="347.5" x2="347.5" y1="525" y2="530.5" stroke="#dcdce0" stroke-width="1"/>
<text x="347.50" y="545.20" font-size="10.8" fill="#5c5c66" font-weight="normal" text-anchor="middle" >2025 Sep</text>
<line x1="464.0" x2="464.0" y1="525" y2="530.5" stroke="#dcdce0" stroke-width="1"/>
<text x="464.00" y="545.20" font-size="10.8" fill="#5c5c66" font-weight="normal" text-anchor="middle" >2025 Oct</text>
<line x1="586.0" x2="586.0" y1="525" y2="530.5" stroke="#dcdce0" stroke-width="1"/>
<text x="585.00" y="545.20" font-size="10.8" fill="#5c5c66" font-weight="normal" text-anchor="middle" >2025 Nov</text>
<line x1="701.0" x2="701.0" y1="525" y2="530.5" stroke="#dcdce0" stroke-width="1"/>
<text x="701.00" y="545.20" font-size="10.8" fill="#5c5c66" font-weight="normal" text-anchor="middle" >2025 Dec</text>
<line x1="821.0" x2="821.0" y1="525" y2="530.5" stroke="#dcdce0" stroke-width="1"/>
<text x="821.00" y="545.20" font-size="10.8" fill="#5c5c66" font-weight="normal" text-anchor="middle" >2026 Jan</text>
<line x1="942.0" x2="942.0" y1="525" y2="530.5" stroke="#dcdce0" stroke-width="1"/>
<text x="942.00" y="545.20" font-size="10.8" fill="#5c5c66" font-weight="normal" text-anchor="middle" >2026 Feb</text>
<text x="962.30" y="193.20" font-size="12.8" fill="#222" font-weight="normal" text-anchor="start" textLength="15.75" lengthAdjust="spacingAndGlyphs" >6B</text>
<text x="962.30" y="315.00" font-size="12.8" fill="#222" font-weight="normal" text-anchor="start" textLength="6.80" lengthAdjust="spacingAndGlyphs" >0</text>
<text x="962.30" y="437.00" font-size="12.8" fill="#222" font-weight="normal" text-anchor="start" textLength="21.00" lengthAdjust="spacingAndGlyphs" >-6B</text>
<text transform="translate(990 310.5) rotate(90)" font-size="13" fill="#111" text-anchor="middle">Netflow ($)</text>
<path d="M598.0 148.5C598.3 157.1 598.8 183.1 600.0 200.0C601.2 216.9 603.3 233.3 605.0 250.0C606.7 266.7 608.3 285.5 610.0 300.0C611.7 314.5 612.5 324.5 615.0 337.0C617.5 349.5 620.8 363.2 625.0 375.0C629.2 386.8 634.0 396.5 640.0 408.0C646.0 419.5 653.5 433.3 661.0 444.0C668.5 454.7 676.8 464.8 685.0 472.0C693.2 479.2 702.2 483.3 710.0 487.0C717.8 490.7 728.3 493.1 732.0 494.3" fill="none" stroke="#111" stroke-width="1.5"/>
<path d="M739.8 496.2 L731.2 497.5 L732.8 491.1 Z" fill="#111"/>
<path d="M791.3 501.3C795.2 500.9 806.9 499.9 815.0 498.8C823.1 497.8 831.7 496.7 840.0 495.0C848.3 493.3 855.7 491.7 865.0 488.8C874.3 485.9 888.5 480.8 896.0 477.5C903.5 474.2 905.8 472.2 910.0 469.0C914.2 465.8 918.0 461.7 921.0 458.0C924.0 454.3 926.4 449.8 928.0 447.0C929.6 444.2 930.1 442.0 930.5 441.0" fill="none" stroke="#111" stroke-width="1.5"/>
<path d="M932.6 434.3 L933.4 442.9 L927.1 440.9 Z" fill="#111"/>
<circle cx="600.0" cy="125.0" r="23" fill="none" stroke="#111" stroke-width="1.6"/>
<circle cx="765.5" cy="497.5" r="23" fill="none" stroke="#111" stroke-width="1.6"/>
<circle cx="926.0" cy="405.0" r="23" fill="none" stroke="#111" stroke-width="1.6"/>
<rect x="530.5" y="113.3" width="47.0" height="23.2" fill="#fff" stroke="#8a8a8a" stroke-width="1"/>
<text x="532.80" y="130.60" font-size="15.8" fill="#6cc04a" font-weight="bold" text-anchor="start" textLength="42.40" lengthAdjust="spacingAndGlyphs" >+9,7B</text>
<rect x="700.8" y="500.5" width="43.7" height="22.5" fill="#fff" stroke="#8a8a8a" stroke-width="1"/>
<text x="703.00" y="517.70" font-size="15.4" fill="#f04a24" font-weight="bold" text-anchor="start" textLength="38.40" lengthAdjust="spacingAndGlyphs" >-9,6B</text>
<rect x="956.0" y="388.8" width="30.8" height="22.5" fill="#fff" stroke="#8a8a8a" stroke-width="1"/>
<text x="959.20" y="405.80" font-size="15.6" fill="#f04a24" font-weight="bold" text-anchor="start" textLength="25.20" lengthAdjust="spacingAndGlyphs" >-4B</text>
<text x="343" y="560" font-size="10.6" fill="#444" textLength="271.5" lengthAdjust="spacingAndGlyphs" xml:space="preserve">More insight by following <tspan>https://x.com/darkfost_coc?s=21</tspan></text>
<line x1="462" x2="628" y1="561.6" y2="561.6" stroke="#777" stroke-width="0.7"/>
<g transform="translate(614.6 551.2) scale(0.9)"><ellipse cx="6.5" cy="6.5" rx="6.3" ry="4.6" fill="#6fb23a"/><circle cx="3.4" cy="2.6" r="2.4" fill="#6fb23a"/><circle cx="9.6" cy="2.6" r="2.4" fill="#6fb23a"/><circle cx="3.4" cy="2.6" r="1.1" fill="#222"/><circle cx="9.6" cy="2.6" r="1.1" fill="#222"/><path d="M2.5 7.5Q6.5 10 10.5 7.5" stroke="#3d7a1c" stroke-width="0.8" fill="none"/></g>
<text x="871.00" y="561.60" font-size="8.4" fill="#666" font-weight="normal" text-anchor="start" textLength="127.50" lengthAdjust="spacingAndGlyphs" >© CryptoQuant. All rights reserved</text>
</svg></body></html>
